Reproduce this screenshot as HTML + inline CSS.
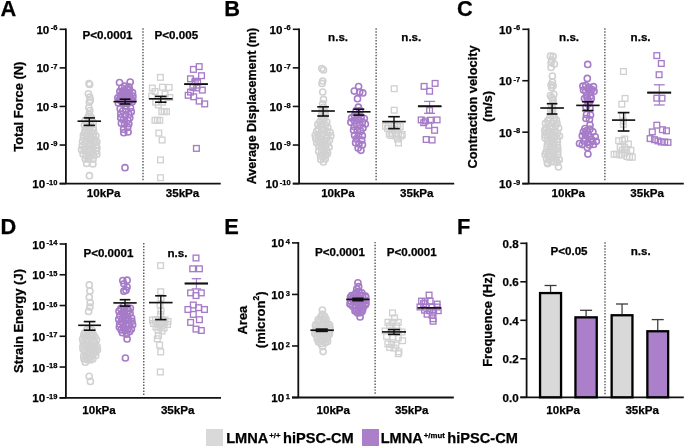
<!DOCTYPE html>
<html><head><meta charset="utf-8"><style>
html,body{margin:0;padding:0;background:#fff;}
svg{display:block;filter:blur(0.3px);}
text{font-family:'Liberation Sans', sans-serif;font-weight:bold;fill:#000;stroke:#000;stroke-width:0.25px;}
</style></head><body>
<svg width="685" height="447" viewBox="0 0 685 447">
<rect width="685" height="447" fill="#fff"/>
<line x1="65.90" y1="28.40" x2="65.90" y2="183.60" stroke="#111" stroke-width="1.8" />
<line x1="59.60" y1="183.60" x2="220.70" y2="183.60" stroke="#111" stroke-width="1.8" />
<line x1="59.60" y1="29.30" x2="65.90" y2="29.30" stroke="#111" stroke-width="1.6" />
<text x="57.40" y="33.80" font-size="11.6" text-anchor="end">10<tspan font-size="7.5" dy="-3.4" dx="1.4">-6</tspan></text>
<line x1="59.60" y1="67.88" x2="65.90" y2="67.88" stroke="#111" stroke-width="1.6" />
<text x="57.40" y="72.38" font-size="11.6" text-anchor="end">10<tspan font-size="7.5" dy="-3.4" dx="1.4">-7</tspan></text>
<line x1="59.60" y1="106.45" x2="65.90" y2="106.45" stroke="#111" stroke-width="1.6" />
<text x="57.40" y="110.95" font-size="11.6" text-anchor="end">10<tspan font-size="7.5" dy="-3.4" dx="1.4">-8</tspan></text>
<line x1="59.60" y1="145.03" x2="65.90" y2="145.03" stroke="#111" stroke-width="1.6" />
<text x="57.40" y="149.53" font-size="11.6" text-anchor="end">10<tspan font-size="7.5" dy="-3.4" dx="1.4">-9</tspan></text>
<line x1="59.60" y1="183.60" x2="65.90" y2="183.60" stroke="#111" stroke-width="1.6" />
<text x="57.40" y="188.10" font-size="11.6" text-anchor="end">10<tspan font-size="7.5" dy="-3.4" dx="1.4">-10</tspan></text>
<line x1="143.0" y1="28.3" x2="143.0" y2="181.1" stroke="#333" stroke-width="1.15" stroke-dasharray="1.45 1.5"/>
<circle cx="90.14" cy="134.26" r="3.05" fill="none" stroke="#d1d1d1" stroke-width="1.6"/>
<circle cx="89.17" cy="156.44" r="3.05" fill="none" stroke="#d1d1d1" stroke-width="1.6"/>
<circle cx="90.66" cy="136.87" r="3.05" fill="none" stroke="#d1d1d1" stroke-width="1.6"/>
<circle cx="89.36" cy="121.68" r="3.05" fill="none" stroke="#d1d1d1" stroke-width="1.6"/>
<circle cx="94.08" cy="142.60" r="3.05" fill="none" stroke="#d1d1d1" stroke-width="1.6"/>
<circle cx="88.04" cy="117.42" r="3.05" fill="none" stroke="#d1d1d1" stroke-width="1.6"/>
<circle cx="91.24" cy="117.26" r="3.05" fill="none" stroke="#d1d1d1" stroke-width="1.6"/>
<circle cx="82.30" cy="145.59" r="3.05" fill="none" stroke="#d1d1d1" stroke-width="1.6"/>
<circle cx="93.08" cy="159.16" r="3.05" fill="none" stroke="#d1d1d1" stroke-width="1.6"/>
<circle cx="91.41" cy="143.73" r="3.05" fill="none" stroke="#d1d1d1" stroke-width="1.6"/>
<circle cx="85.14" cy="120.40" r="3.05" fill="none" stroke="#d1d1d1" stroke-width="1.6"/>
<circle cx="83.45" cy="137.83" r="3.05" fill="none" stroke="#d1d1d1" stroke-width="1.6"/>
<circle cx="89.18" cy="114.41" r="3.05" fill="none" stroke="#d1d1d1" stroke-width="1.6"/>
<circle cx="93.58" cy="133.70" r="3.05" fill="none" stroke="#d1d1d1" stroke-width="1.6"/>
<circle cx="86.62" cy="134.49" r="3.05" fill="none" stroke="#d1d1d1" stroke-width="1.6"/>
<circle cx="92.92" cy="152.49" r="3.05" fill="none" stroke="#d1d1d1" stroke-width="1.6"/>
<circle cx="86.43" cy="127.82" r="3.05" fill="none" stroke="#d1d1d1" stroke-width="1.6"/>
<circle cx="87.97" cy="149.02" r="3.05" fill="none" stroke="#d1d1d1" stroke-width="1.6"/>
<circle cx="87.97" cy="152.79" r="3.05" fill="none" stroke="#d1d1d1" stroke-width="1.6"/>
<circle cx="88.40" cy="159.08" r="3.05" fill="none" stroke="#d1d1d1" stroke-width="1.6"/>
<circle cx="84.24" cy="150.46" r="3.05" fill="none" stroke="#d1d1d1" stroke-width="1.6"/>
<circle cx="88.82" cy="139.29" r="3.05" fill="none" stroke="#d1d1d1" stroke-width="1.6"/>
<circle cx="87.10" cy="123.00" r="3.05" fill="none" stroke="#d1d1d1" stroke-width="1.6"/>
<circle cx="93.21" cy="127.29" r="3.05" fill="none" stroke="#d1d1d1" stroke-width="1.6"/>
<circle cx="90.23" cy="124.42" r="3.05" fill="none" stroke="#d1d1d1" stroke-width="1.6"/>
<circle cx="88.75" cy="130.47" r="3.05" fill="none" stroke="#d1d1d1" stroke-width="1.6"/>
<circle cx="94.95" cy="140.00" r="3.05" fill="none" stroke="#d1d1d1" stroke-width="1.6"/>
<circle cx="93.78" cy="155.70" r="3.05" fill="none" stroke="#d1d1d1" stroke-width="1.6"/>
<circle cx="96.92" cy="147.75" r="3.05" fill="none" stroke="#d1d1d1" stroke-width="1.6"/>
<circle cx="93.38" cy="122.24" r="3.05" fill="none" stroke="#d1d1d1" stroke-width="1.6"/>
<circle cx="91.21" cy="154.46" r="3.05" fill="none" stroke="#d1d1d1" stroke-width="1.6"/>
<circle cx="84.62" cy="132.81" r="3.05" fill="none" stroke="#d1d1d1" stroke-width="1.6"/>
<circle cx="86.54" cy="141.03" r="3.05" fill="none" stroke="#d1d1d1" stroke-width="1.6"/>
<circle cx="85.95" cy="156.12" r="3.05" fill="none" stroke="#d1d1d1" stroke-width="1.6"/>
<circle cx="93.51" cy="130.02" r="3.05" fill="none" stroke="#d1d1d1" stroke-width="1.6"/>
<circle cx="93.00" cy="147.64" r="3.05" fill="none" stroke="#d1d1d1" stroke-width="1.6"/>
<circle cx="91.20" cy="140.39" r="3.05" fill="none" stroke="#d1d1d1" stroke-width="1.6"/>
<circle cx="89.58" cy="145.82" r="3.05" fill="none" stroke="#d1d1d1" stroke-width="1.6"/>
<circle cx="84.46" cy="125.02" r="3.05" fill="none" stroke="#d1d1d1" stroke-width="1.6"/>
<circle cx="96.52" cy="150.88" r="3.05" fill="none" stroke="#d1d1d1" stroke-width="1.6"/>
<circle cx="83.07" cy="154.02" r="3.05" fill="none" stroke="#d1d1d1" stroke-width="1.6"/>
<circle cx="88.80" cy="142.57" r="3.05" fill="none" stroke="#d1d1d1" stroke-width="1.6"/>
<circle cx="85.04" cy="143.61" r="3.05" fill="none" stroke="#d1d1d1" stroke-width="1.6"/>
<circle cx="82.54" cy="141.45" r="3.05" fill="none" stroke="#d1d1d1" stroke-width="1.6"/>
<circle cx="81.53" cy="149.63" r="3.05" fill="none" stroke="#d1d1d1" stroke-width="1.6"/>
<circle cx="91.47" cy="131.93" r="3.05" fill="none" stroke="#d1d1d1" stroke-width="1.6"/>
<circle cx="96.15" cy="145.07" r="3.05" fill="none" stroke="#d1d1d1" stroke-width="1.6"/>
<circle cx="85.27" cy="159.06" r="3.05" fill="none" stroke="#d1d1d1" stroke-width="1.6"/>
<circle cx="85.33" cy="147.51" r="3.05" fill="none" stroke="#d1d1d1" stroke-width="1.6"/>
<circle cx="85.06" cy="130.22" r="3.05" fill="none" stroke="#d1d1d1" stroke-width="1.6"/>
<circle cx="90.34" cy="150.46" r="3.05" fill="none" stroke="#d1d1d1" stroke-width="1.6"/>
<circle cx="89.75" cy="127.65" r="3.05" fill="none" stroke="#d1d1d1" stroke-width="1.6"/>
<circle cx="91.49" cy="120.08" r="3.05" fill="none" stroke="#d1d1d1" stroke-width="1.6"/>
<circle cx="93.38" cy="136.94" r="3.05" fill="none" stroke="#d1d1d1" stroke-width="1.6"/>
<circle cx="86.28" cy="137.43" r="3.05" fill="none" stroke="#d1d1d1" stroke-width="1.6"/>
<circle cx="95.91" cy="135.83" r="3.05" fill="none" stroke="#d1d1d1" stroke-width="1.6"/>
<circle cx="96.83" cy="154.35" r="3.05" fill="none" stroke="#d1d1d1" stroke-width="1.6"/>
<circle cx="83.42" cy="135.20" r="3.05" fill="none" stroke="#d1d1d1" stroke-width="1.6"/>
<circle cx="96.88" cy="141.84" r="3.05" fill="none" stroke="#d1d1d1" stroke-width="1.6"/>
<circle cx="89.00" cy="83.50" r="3.05" fill="none" stroke="#d1d1d1" stroke-width="1.6"/>
<circle cx="89.60" cy="84.50" r="3.05" fill="none" stroke="#d1d1d1" stroke-width="1.6"/>
<circle cx="88.40" cy="93.80" r="3.05" fill="none" stroke="#d1d1d1" stroke-width="1.6"/>
<circle cx="89.80" cy="97.20" r="3.05" fill="none" stroke="#d1d1d1" stroke-width="1.6"/>
<circle cx="90.30" cy="100.20" r="3.05" fill="none" stroke="#d1d1d1" stroke-width="1.6"/>
<circle cx="89.30" cy="102.10" r="3.05" fill="none" stroke="#d1d1d1" stroke-width="1.6"/>
<circle cx="88.80" cy="107.60" r="3.05" fill="none" stroke="#d1d1d1" stroke-width="1.6"/>
<circle cx="89.80" cy="110.50" r="3.05" fill="none" stroke="#d1d1d1" stroke-width="1.6"/>
<circle cx="86.60" cy="163.50" r="3.05" fill="none" stroke="#d1d1d1" stroke-width="1.6"/>
<circle cx="92.90" cy="164.00" r="3.05" fill="none" stroke="#d1d1d1" stroke-width="1.6"/>
<circle cx="89.40" cy="175.70" r="3.05" fill="none" stroke="#d1d1d1" stroke-width="1.6"/>
<line x1="89.30" y1="117.90" x2="89.30" y2="125.40" stroke="#111" stroke-width="1.4024999999999999" />
<line x1="83.70" y1="117.90" x2="94.90" y2="117.90" stroke="#111" stroke-width="1.65" />
<line x1="83.70" y1="125.40" x2="94.90" y2="125.40" stroke="#111" stroke-width="1.65" />
<line x1="77.55" y1="121.20" x2="101.05" y2="121.20" stroke="#111" stroke-width="1.65" />
<circle cx="128.25" cy="92.64" r="3.05" fill="none" stroke="#a67bc8" stroke-width="1.6"/>
<circle cx="120.37" cy="95.33" r="3.05" fill="none" stroke="#a67bc8" stroke-width="1.6"/>
<circle cx="124.76" cy="86.15" r="3.05" fill="none" stroke="#a67bc8" stroke-width="1.6"/>
<circle cx="129.68" cy="89.84" r="3.05" fill="none" stroke="#a67bc8" stroke-width="1.6"/>
<circle cx="127.31" cy="95.67" r="3.05" fill="none" stroke="#a67bc8" stroke-width="1.6"/>
<circle cx="128.99" cy="86.82" r="3.05" fill="none" stroke="#a67bc8" stroke-width="1.6"/>
<circle cx="124.80" cy="90.72" r="3.05" fill="none" stroke="#a67bc8" stroke-width="1.6"/>
<circle cx="117.81" cy="97.79" r="3.05" fill="none" stroke="#a67bc8" stroke-width="1.6"/>
<circle cx="132.71" cy="99.82" r="3.05" fill="none" stroke="#a67bc8" stroke-width="1.6"/>
<circle cx="119.86" cy="91.38" r="3.05" fill="none" stroke="#a67bc8" stroke-width="1.6"/>
<circle cx="132.93" cy="96.17" r="3.05" fill="none" stroke="#a67bc8" stroke-width="1.6"/>
<circle cx="128.00" cy="99.67" r="3.05" fill="none" stroke="#a67bc8" stroke-width="1.6"/>
<circle cx="125.56" cy="97.34" r="3.05" fill="none" stroke="#a67bc8" stroke-width="1.6"/>
<circle cx="132.50" cy="92.67" r="3.05" fill="none" stroke="#a67bc8" stroke-width="1.6"/>
<circle cx="123.15" cy="96.79" r="3.05" fill="none" stroke="#a67bc8" stroke-width="1.6"/>
<circle cx="122.53" cy="91.88" r="3.05" fill="none" stroke="#a67bc8" stroke-width="1.6"/>
<circle cx="130.25" cy="98.65" r="3.05" fill="none" stroke="#a67bc8" stroke-width="1.6"/>
<circle cx="121.64" cy="87.99" r="3.05" fill="none" stroke="#a67bc8" stroke-width="1.6"/>
<circle cx="125.26" cy="93.51" r="3.05" fill="none" stroke="#a67bc8" stroke-width="1.6"/>
<circle cx="122.42" cy="99.97" r="3.05" fill="none" stroke="#a67bc8" stroke-width="1.6"/>
<circle cx="119.33" cy="99.66" r="3.05" fill="none" stroke="#a67bc8" stroke-width="1.6"/>
<circle cx="126.98" cy="88.37" r="3.05" fill="none" stroke="#a67bc8" stroke-width="1.6"/>
<circle cx="129.84" cy="96.28" r="3.05" fill="none" stroke="#a67bc8" stroke-width="1.6"/>
<circle cx="120.79" cy="97.72" r="3.05" fill="none" stroke="#a67bc8" stroke-width="1.6"/>
<circle cx="125.03" cy="99.87" r="3.05" fill="none" stroke="#a67bc8" stroke-width="1.6"/>
<circle cx="122.92" cy="94.38" r="3.05" fill="none" stroke="#a67bc8" stroke-width="1.6"/>
<circle cx="127.78" cy="120.31" r="3.05" fill="none" stroke="#a67bc8" stroke-width="1.6"/>
<circle cx="125.31" cy="115.61" r="3.05" fill="none" stroke="#a67bc8" stroke-width="1.6"/>
<circle cx="131.28" cy="111.81" r="3.05" fill="none" stroke="#a67bc8" stroke-width="1.6"/>
<circle cx="120.20" cy="108.68" r="3.05" fill="none" stroke="#a67bc8" stroke-width="1.6"/>
<circle cx="122.45" cy="103.23" r="3.05" fill="none" stroke="#a67bc8" stroke-width="1.6"/>
<circle cx="125.99" cy="109.33" r="3.05" fill="none" stroke="#a67bc8" stroke-width="1.6"/>
<circle cx="125.74" cy="106.08" r="3.05" fill="none" stroke="#a67bc8" stroke-width="1.6"/>
<circle cx="124.53" cy="124.09" r="3.05" fill="none" stroke="#a67bc8" stroke-width="1.6"/>
<circle cx="128.76" cy="102.98" r="3.05" fill="none" stroke="#a67bc8" stroke-width="1.6"/>
<circle cx="123.34" cy="119.75" r="3.05" fill="none" stroke="#a67bc8" stroke-width="1.6"/>
<circle cx="127.74" cy="127.45" r="3.05" fill="none" stroke="#a67bc8" stroke-width="1.6"/>
<circle cx="128.80" cy="123.76" r="3.05" fill="none" stroke="#a67bc8" stroke-width="1.6"/>
<circle cx="118.38" cy="103.04" r="3.05" fill="none" stroke="#a67bc8" stroke-width="1.6"/>
<circle cx="124.19" cy="100.48" r="3.05" fill="none" stroke="#a67bc8" stroke-width="1.6"/>
<circle cx="120.73" cy="114.01" r="3.05" fill="none" stroke="#a67bc8" stroke-width="1.6"/>
<circle cx="129.75" cy="117.67" r="3.05" fill="none" stroke="#a67bc8" stroke-width="1.6"/>
<circle cx="130.49" cy="107.84" r="3.05" fill="none" stroke="#a67bc8" stroke-width="1.6"/>
<circle cx="123.59" cy="129.13" r="3.05" fill="none" stroke="#a67bc8" stroke-width="1.6"/>
<circle cx="122.74" cy="110.86" r="3.05" fill="none" stroke="#a67bc8" stroke-width="1.6"/>
<circle cx="120.70" cy="117.63" r="3.05" fill="none" stroke="#a67bc8" stroke-width="1.6"/>
<circle cx="132.09" cy="102.12" r="3.05" fill="none" stroke="#a67bc8" stroke-width="1.6"/>
<circle cx="128.97" cy="114.44" r="3.05" fill="none" stroke="#a67bc8" stroke-width="1.6"/>
<circle cx="121.39" cy="123.13" r="3.05" fill="none" stroke="#a67bc8" stroke-width="1.6"/>
<circle cx="120.32" cy="100.34" r="3.05" fill="none" stroke="#a67bc8" stroke-width="1.6"/>
<circle cx="119.50" cy="82.50" r="3.05" fill="none" stroke="#a67bc8" stroke-width="1.6"/>
<circle cx="130.20" cy="82.00" r="3.05" fill="none" stroke="#a67bc8" stroke-width="1.6"/>
<circle cx="123.80" cy="132.70" r="3.05" fill="none" stroke="#a67bc8" stroke-width="1.6"/>
<circle cx="128.10" cy="132.00" r="3.05" fill="none" stroke="#a67bc8" stroke-width="1.6"/>
<circle cx="125.00" cy="167.70" r="3.05" fill="none" stroke="#a67bc8" stroke-width="1.6"/>
<line x1="125.10" y1="99.20" x2="125.10" y2="104.00" stroke="#111" stroke-width="1.4024999999999999" />
<line x1="119.70" y1="99.20" x2="130.50" y2="99.20" stroke="#111" stroke-width="1.65" />
<line x1="119.70" y1="104.00" x2="130.50" y2="104.00" stroke="#111" stroke-width="1.65" />
<line x1="113.50" y1="101.60" x2="136.70" y2="101.60" stroke="#111" stroke-width="1.65" />
<rect x="157.55" y="74.55" width="5.7" height="5.7" fill="none" stroke="#d1d1d1" stroke-width="1.35"/>
<rect x="149.55" y="85.25" width="5.7" height="5.7" fill="none" stroke="#d1d1d1" stroke-width="1.35"/>
<rect x="159.55" y="84.35" width="5.7" height="5.7" fill="none" stroke="#d1d1d1" stroke-width="1.35"/>
<rect x="166.25" y="84.55" width="5.7" height="5.7" fill="none" stroke="#d1d1d1" stroke-width="1.35"/>
<rect x="152.15" y="88.65" width="5.7" height="5.7" fill="none" stroke="#d1d1d1" stroke-width="1.35"/>
<rect x="162.25" y="91.25" width="5.7" height="5.7" fill="none" stroke="#d1d1d1" stroke-width="1.35"/>
<rect x="148.85" y="93.25" width="5.7" height="5.7" fill="none" stroke="#d1d1d1" stroke-width="1.35"/>
<rect x="166.95" y="94.65" width="5.7" height="5.7" fill="none" stroke="#d1d1d1" stroke-width="1.35"/>
<rect x="152.85" y="99.35" width="5.7" height="5.7" fill="none" stroke="#d1d1d1" stroke-width="1.35"/>
<rect x="159.55" y="99.35" width="5.7" height="5.7" fill="none" stroke="#d1d1d1" stroke-width="1.35"/>
<rect x="155.55" y="102.05" width="5.7" height="5.7" fill="none" stroke="#d1d1d1" stroke-width="1.35"/>
<rect x="158.95" y="108.75" width="5.7" height="5.7" fill="none" stroke="#d1d1d1" stroke-width="1.35"/>
<rect x="161.35" y="108.75" width="5.7" height="5.7" fill="none" stroke="#d1d1d1" stroke-width="1.35"/>
<rect x="163.65" y="108.75" width="5.7" height="5.7" fill="none" stroke="#d1d1d1" stroke-width="1.35"/>
<rect x="152.15" y="117.45" width="5.7" height="5.7" fill="none" stroke="#d1d1d1" stroke-width="1.35"/>
<rect x="154.55" y="117.45" width="5.7" height="5.7" fill="none" stroke="#d1d1d1" stroke-width="1.35"/>
<rect x="156.95" y="117.45" width="5.7" height="5.7" fill="none" stroke="#d1d1d1" stroke-width="1.35"/>
<rect x="155.95" y="130.25" width="5.7" height="5.7" fill="none" stroke="#d1d1d1" stroke-width="1.35"/>
<rect x="159.25" y="137.15" width="5.7" height="5.7" fill="none" stroke="#d1d1d1" stroke-width="1.35"/>
<rect x="157.65" y="157.05" width="5.7" height="5.7" fill="none" stroke="#d1d1d1" stroke-width="1.35"/>
<rect x="157.65" y="174.85" width="5.7" height="5.7" fill="none" stroke="#d1d1d1" stroke-width="1.35"/>
<line x1="160.80" y1="96.40" x2="160.80" y2="102.20" stroke="#111" stroke-width="1.4024999999999999" />
<line x1="155.05" y1="96.40" x2="166.55" y2="96.40" stroke="#111" stroke-width="1.65" />
<line x1="155.05" y1="102.20" x2="166.55" y2="102.20" stroke="#111" stroke-width="1.65" />
<line x1="149.05" y1="98.80" x2="172.55" y2="98.80" stroke="#111" stroke-width="1.65" />
<line x1="196.00" y1="80.00" x2="196.00" y2="88.00" stroke="#a67bc8" stroke-width="1.105" />
<line x1="191.00" y1="80.00" x2="201.00" y2="80.00" stroke="#a67bc8" stroke-width="1.3" />
<line x1="191.00" y1="88.00" x2="201.00" y2="88.00" stroke="#a67bc8" stroke-width="1.3" />
<line x1="184.25" y1="84.20" x2="207.75" y2="84.20" stroke="#111" stroke-width="1.65" />
<rect x="196.35" y="63.75" width="5.7" height="5.7" fill="none" stroke="#a67bc8" stroke-width="1.35"/>
<rect x="190.55" y="66.55" width="5.7" height="5.7" fill="none" stroke="#a67bc8" stroke-width="1.35"/>
<rect x="198.65" y="72.85" width="5.7" height="5.7" fill="none" stroke="#a67bc8" stroke-width="1.35"/>
<rect x="187.65" y="75.95" width="5.7" height="5.7" fill="none" stroke="#a67bc8" stroke-width="1.35"/>
<rect x="192.35" y="78.35" width="5.7" height="5.7" fill="none" stroke="#a67bc8" stroke-width="1.35"/>
<rect x="194.75" y="79.15" width="5.7" height="5.7" fill="none" stroke="#a67bc8" stroke-width="1.35"/>
<rect x="190.05" y="84.55" width="5.7" height="5.7" fill="none" stroke="#a67bc8" stroke-width="1.35"/>
<rect x="193.95" y="85.05" width="5.7" height="5.7" fill="none" stroke="#a67bc8" stroke-width="1.35"/>
<rect x="199.45" y="87.25" width="5.7" height="5.7" fill="none" stroke="#a67bc8" stroke-width="1.35"/>
<rect x="187.65" y="89.25" width="5.7" height="5.7" fill="none" stroke="#a67bc8" stroke-width="1.35"/>
<rect x="185.35" y="92.45" width="5.7" height="5.7" fill="none" stroke="#a67bc8" stroke-width="1.35"/>
<rect x="190.85" y="93.95" width="5.7" height="5.7" fill="none" stroke="#a67bc8" stroke-width="1.35"/>
<rect x="196.35" y="98.25" width="5.7" height="5.7" fill="none" stroke="#a67bc8" stroke-width="1.35"/>
<rect x="201.85" y="101.05" width="5.7" height="5.7" fill="none" stroke="#a67bc8" stroke-width="1.35"/>
<rect x="193.55" y="145.55" width="5.7" height="5.7" fill="none" stroke="#a67bc8" stroke-width="1.35"/>
<line x1="184.30" y1="84.20" x2="207.80" y2="84.20" stroke="#111" stroke-width="1.7" />
<text x="107.55" y="39.20" font-size="11.6" text-anchor="middle" >P&lt;0.0001</text>
<text x="176.35" y="39.20" font-size="11.6" text-anchor="middle" >P&lt;0.005</text>
<text x="103.60" y="197.40" font-size="11.6" text-anchor="middle" >10kPa</text>
<text x="182.50" y="197.40" font-size="11.6" text-anchor="middle" >35kPa</text>
<line x1="299.10" y1="28.40" x2="299.10" y2="183.60" stroke="#111" stroke-width="1.8" />
<line x1="292.80" y1="183.60" x2="454.20" y2="183.60" stroke="#111" stroke-width="1.8" />
<line x1="292.80" y1="29.30" x2="299.10" y2="29.30" stroke="#111" stroke-width="1.6" />
<text x="290.60" y="33.80" font-size="11.6" text-anchor="end">10<tspan font-size="7.5" dy="-3.4" dx="1.4">-6</tspan></text>
<line x1="292.80" y1="67.88" x2="299.10" y2="67.88" stroke="#111" stroke-width="1.6" />
<text x="290.60" y="72.38" font-size="11.6" text-anchor="end">10<tspan font-size="7.5" dy="-3.4" dx="1.4">-7</tspan></text>
<line x1="292.80" y1="106.45" x2="299.10" y2="106.45" stroke="#111" stroke-width="1.6" />
<text x="290.60" y="110.95" font-size="11.6" text-anchor="end">10<tspan font-size="7.5" dy="-3.4" dx="1.4">-8</tspan></text>
<line x1="292.80" y1="145.03" x2="299.10" y2="145.03" stroke="#111" stroke-width="1.6" />
<text x="290.60" y="149.53" font-size="11.6" text-anchor="end">10<tspan font-size="7.5" dy="-3.4" dx="1.4">-9</tspan></text>
<line x1="292.80" y1="183.60" x2="299.10" y2="183.60" stroke="#111" stroke-width="1.6" />
<text x="290.60" y="188.10" font-size="11.6" text-anchor="end">10<tspan font-size="7.5" dy="-3.4" dx="1.4">-10</tspan></text>
<line x1="376.1" y1="28.3" x2="376.1" y2="181.1" stroke="#333" stroke-width="1.15" stroke-dasharray="1.45 1.5"/>
<circle cx="324.49" cy="118.28" r="3.05" fill="none" stroke="#d1d1d1" stroke-width="1.6"/>
<circle cx="327.78" cy="143.36" r="3.05" fill="none" stroke="#d1d1d1" stroke-width="1.6"/>
<circle cx="321.80" cy="113.96" r="3.05" fill="none" stroke="#d1d1d1" stroke-width="1.6"/>
<circle cx="318.91" cy="146.31" r="3.05" fill="none" stroke="#d1d1d1" stroke-width="1.6"/>
<circle cx="318.51" cy="134.35" r="3.05" fill="none" stroke="#d1d1d1" stroke-width="1.6"/>
<circle cx="322.71" cy="120.38" r="3.05" fill="none" stroke="#d1d1d1" stroke-width="1.6"/>
<circle cx="324.49" cy="152.42" r="3.05" fill="none" stroke="#d1d1d1" stroke-width="1.6"/>
<circle cx="322.63" cy="103.85" r="3.05" fill="none" stroke="#d1d1d1" stroke-width="1.6"/>
<circle cx="325.11" cy="111.66" r="3.05" fill="none" stroke="#d1d1d1" stroke-width="1.6"/>
<circle cx="325.21" cy="159.01" r="3.05" fill="none" stroke="#d1d1d1" stroke-width="1.6"/>
<circle cx="326.81" cy="131.72" r="3.05" fill="none" stroke="#d1d1d1" stroke-width="1.6"/>
<circle cx="321.97" cy="136.28" r="3.05" fill="none" stroke="#d1d1d1" stroke-width="1.6"/>
<circle cx="322.39" cy="124.49" r="3.05" fill="none" stroke="#d1d1d1" stroke-width="1.6"/>
<circle cx="319.96" cy="121.51" r="3.05" fill="none" stroke="#d1d1d1" stroke-width="1.6"/>
<circle cx="327.00" cy="135.70" r="3.05" fill="none" stroke="#d1d1d1" stroke-width="1.6"/>
<circle cx="318.53" cy="129.16" r="3.05" fill="none" stroke="#d1d1d1" stroke-width="1.6"/>
<circle cx="321.70" cy="116.89" r="3.05" fill="none" stroke="#d1d1d1" stroke-width="1.6"/>
<circle cx="323.63" cy="107.32" r="3.05" fill="none" stroke="#d1d1d1" stroke-width="1.6"/>
<circle cx="326.84" cy="150.56" r="3.05" fill="none" stroke="#d1d1d1" stroke-width="1.6"/>
<circle cx="318.36" cy="140.70" r="3.05" fill="none" stroke="#d1d1d1" stroke-width="1.6"/>
<circle cx="327.79" cy="127.40" r="3.05" fill="none" stroke="#d1d1d1" stroke-width="1.6"/>
<circle cx="325.89" cy="155.29" r="3.05" fill="none" stroke="#d1d1d1" stroke-width="1.6"/>
<circle cx="325.22" cy="114.98" r="3.05" fill="none" stroke="#d1d1d1" stroke-width="1.6"/>
<circle cx="325.55" cy="125.11" r="3.05" fill="none" stroke="#d1d1d1" stroke-width="1.6"/>
<circle cx="326.41" cy="138.61" r="3.05" fill="none" stroke="#d1d1d1" stroke-width="1.6"/>
<circle cx="322.03" cy="109.62" r="3.05" fill="none" stroke="#d1d1d1" stroke-width="1.6"/>
<circle cx="330.10" cy="132.30" r="3.05" fill="none" stroke="#d1d1d1" stroke-width="1.6"/>
<circle cx="322.64" cy="133.48" r="3.05" fill="none" stroke="#d1d1d1" stroke-width="1.6"/>
<circle cx="320.45" cy="142.50" r="3.05" fill="none" stroke="#d1d1d1" stroke-width="1.6"/>
<circle cx="321.32" cy="153.10" r="3.05" fill="none" stroke="#d1d1d1" stroke-width="1.6"/>
<circle cx="315.72" cy="138.39" r="3.05" fill="none" stroke="#d1d1d1" stroke-width="1.6"/>
<circle cx="326.76" cy="122.04" r="3.05" fill="none" stroke="#d1d1d1" stroke-width="1.6"/>
<circle cx="324.02" cy="128.99" r="3.05" fill="none" stroke="#d1d1d1" stroke-width="1.6"/>
<circle cx="320.45" cy="155.96" r="3.05" fill="none" stroke="#d1d1d1" stroke-width="1.6"/>
<circle cx="323.45" cy="161.98" r="3.05" fill="none" stroke="#d1d1d1" stroke-width="1.6"/>
<circle cx="320.77" cy="159.60" r="3.05" fill="none" stroke="#d1d1d1" stroke-width="1.6"/>
<circle cx="321.55" cy="147.83" r="3.05" fill="none" stroke="#d1d1d1" stroke-width="1.6"/>
<circle cx="325.31" cy="145.53" r="3.05" fill="none" stroke="#d1d1d1" stroke-width="1.6"/>
<circle cx="319.44" cy="137.85" r="3.05" fill="none" stroke="#d1d1d1" stroke-width="1.6"/>
<circle cx="324.69" cy="140.86" r="3.05" fill="none" stroke="#d1d1d1" stroke-width="1.6"/>
<circle cx="322.31" cy="144.66" r="3.05" fill="none" stroke="#d1d1d1" stroke-width="1.6"/>
<circle cx="317.80" cy="124.45" r="3.05" fill="none" stroke="#d1d1d1" stroke-width="1.6"/>
<circle cx="329.46" cy="140.17" r="3.05" fill="none" stroke="#d1d1d1" stroke-width="1.6"/>
<circle cx="316.68" cy="142.86" r="3.05" fill="none" stroke="#d1d1d1" stroke-width="1.6"/>
<circle cx="316.69" cy="131.30" r="3.05" fill="none" stroke="#d1d1d1" stroke-width="1.6"/>
<circle cx="318.74" cy="151.13" r="3.05" fill="none" stroke="#d1d1d1" stroke-width="1.6"/>
<circle cx="321.67" cy="130.35" r="3.05" fill="none" stroke="#d1d1d1" stroke-width="1.6"/>
<circle cx="320.11" cy="126.05" r="3.05" fill="none" stroke="#d1d1d1" stroke-width="1.6"/>
<circle cx="330.85" cy="135.66" r="3.05" fill="none" stroke="#d1d1d1" stroke-width="1.6"/>
<circle cx="323.50" cy="156.79" r="3.05" fill="none" stroke="#d1d1d1" stroke-width="1.6"/>
<circle cx="329.03" cy="147.11" r="3.05" fill="none" stroke="#d1d1d1" stroke-width="1.6"/>
<circle cx="323.71" cy="149.47" r="3.05" fill="none" stroke="#d1d1d1" stroke-width="1.6"/>
<circle cx="315.19" cy="135.30" r="3.05" fill="none" stroke="#d1d1d1" stroke-width="1.6"/>
<circle cx="321.83" cy="139.36" r="3.05" fill="none" stroke="#d1d1d1" stroke-width="1.6"/>
<circle cx="327.59" cy="153.17" r="3.05" fill="none" stroke="#d1d1d1" stroke-width="1.6"/>
<circle cx="321.80" cy="68.60" r="3.05" fill="none" stroke="#d1d1d1" stroke-width="1.6"/>
<circle cx="323.50" cy="69.90" r="3.05" fill="none" stroke="#d1d1d1" stroke-width="1.6"/>
<circle cx="322.70" cy="81.00" r="3.05" fill="none" stroke="#d1d1d1" stroke-width="1.6"/>
<circle cx="322.00" cy="83.40" r="3.05" fill="none" stroke="#d1d1d1" stroke-width="1.6"/>
<circle cx="322.70" cy="92.00" r="3.05" fill="none" stroke="#d1d1d1" stroke-width="1.6"/>
<circle cx="323.50" cy="99.40" r="3.05" fill="none" stroke="#d1d1d1" stroke-width="1.6"/>
<line x1="323.10" y1="106.80" x2="323.10" y2="116.00" stroke="#111" stroke-width="1.4024999999999999" />
<line x1="317.25" y1="106.80" x2="328.95" y2="106.80" stroke="#111" stroke-width="1.65" />
<line x1="317.25" y1="116.00" x2="328.95" y2="116.00" stroke="#111" stroke-width="1.65" />
<line x1="311.35" y1="111.00" x2="334.85" y2="111.00" stroke="#111" stroke-width="1.65" />
<circle cx="358.60" cy="119.64" r="3.05" fill="none" stroke="#a67bc8" stroke-width="1.6"/>
<circle cx="359.70" cy="124.98" r="3.05" fill="none" stroke="#a67bc8" stroke-width="1.6"/>
<circle cx="354.60" cy="135.34" r="3.05" fill="none" stroke="#a67bc8" stroke-width="1.6"/>
<circle cx="359.96" cy="110.53" r="3.05" fill="none" stroke="#a67bc8" stroke-width="1.6"/>
<circle cx="354.24" cy="120.50" r="3.05" fill="none" stroke="#a67bc8" stroke-width="1.6"/>
<circle cx="360.92" cy="150.32" r="3.05" fill="none" stroke="#a67bc8" stroke-width="1.6"/>
<circle cx="358.99" cy="143.88" r="3.05" fill="none" stroke="#a67bc8" stroke-width="1.6"/>
<circle cx="362.34" cy="135.71" r="3.05" fill="none" stroke="#a67bc8" stroke-width="1.6"/>
<circle cx="360.75" cy="131.19" r="3.05" fill="none" stroke="#a67bc8" stroke-width="1.6"/>
<circle cx="350.89" cy="122.20" r="3.05" fill="none" stroke="#a67bc8" stroke-width="1.6"/>
<circle cx="363.03" cy="128.01" r="3.05" fill="none" stroke="#a67bc8" stroke-width="1.6"/>
<circle cx="354.45" cy="115.51" r="3.05" fill="none" stroke="#a67bc8" stroke-width="1.6"/>
<circle cx="357.29" cy="130.54" r="3.05" fill="none" stroke="#a67bc8" stroke-width="1.6"/>
<circle cx="362.44" cy="144.68" r="3.05" fill="none" stroke="#a67bc8" stroke-width="1.6"/>
<circle cx="356.36" cy="138.91" r="3.05" fill="none" stroke="#a67bc8" stroke-width="1.6"/>
<circle cx="354.09" cy="126.62" r="3.05" fill="none" stroke="#a67bc8" stroke-width="1.6"/>
<circle cx="362.45" cy="121.90" r="3.05" fill="none" stroke="#a67bc8" stroke-width="1.6"/>
<circle cx="358.45" cy="135.41" r="3.05" fill="none" stroke="#a67bc8" stroke-width="1.6"/>
<circle cx="356.03" cy="110.90" r="3.05" fill="none" stroke="#a67bc8" stroke-width="1.6"/>
<circle cx="361.70" cy="140.19" r="3.05" fill="none" stroke="#a67bc8" stroke-width="1.6"/>
<circle cx="355.59" cy="142.81" r="3.05" fill="none" stroke="#a67bc8" stroke-width="1.6"/>
<circle cx="361.11" cy="116.94" r="3.05" fill="none" stroke="#a67bc8" stroke-width="1.6"/>
<circle cx="358.00" cy="115.01" r="3.05" fill="none" stroke="#a67bc8" stroke-width="1.6"/>
<circle cx="356.39" cy="123.52" r="3.05" fill="none" stroke="#a67bc8" stroke-width="1.6"/>
<circle cx="365.37" cy="124.01" r="3.05" fill="none" stroke="#a67bc8" stroke-width="1.6"/>
<circle cx="358.17" cy="148.00" r="3.05" fill="none" stroke="#a67bc8" stroke-width="1.6"/>
<circle cx="351.65" cy="117.90" r="3.05" fill="none" stroke="#a67bc8" stroke-width="1.6"/>
<circle cx="364.29" cy="118.51" r="3.05" fill="none" stroke="#a67bc8" stroke-width="1.6"/>
<circle cx="353.59" cy="130.19" r="3.05" fill="none" stroke="#a67bc8" stroke-width="1.6"/>
<circle cx="358.60" cy="86.60" r="3.05" fill="none" stroke="#a67bc8" stroke-width="1.6"/>
<circle cx="354.30" cy="91.10" r="3.05" fill="none" stroke="#a67bc8" stroke-width="1.6"/>
<circle cx="359.70" cy="92.00" r="3.05" fill="none" stroke="#a67bc8" stroke-width="1.6"/>
<circle cx="362.80" cy="92.90" r="3.05" fill="none" stroke="#a67bc8" stroke-width="1.6"/>
<circle cx="357.50" cy="98.70" r="3.05" fill="none" stroke="#a67bc8" stroke-width="1.6"/>
<circle cx="358.40" cy="107.20" r="3.05" fill="none" stroke="#a67bc8" stroke-width="1.6"/>
<line x1="358.80" y1="109.20" x2="358.80" y2="115.10" stroke="#111" stroke-width="1.4024999999999999" />
<line x1="353.30" y1="109.20" x2="364.30" y2="109.20" stroke="#111" stroke-width="1.65" />
<line x1="353.30" y1="115.10" x2="364.30" y2="115.10" stroke="#111" stroke-width="1.65" />
<line x1="347.05" y1="111.80" x2="370.55" y2="111.80" stroke="#111" stroke-width="1.65" />
<rect x="391.35" y="85.85" width="5.7" height="5.7" fill="none" stroke="#d1d1d1" stroke-width="1.35"/>
<rect x="391.35" y="107.35" width="5.7" height="5.7" fill="none" stroke="#d1d1d1" stroke-width="1.35"/>
<rect x="382.65" y="123.45" width="5.7" height="5.7" fill="none" stroke="#d1d1d1" stroke-width="1.35"/>
<rect x="385.65" y="123.15" width="5.7" height="5.7" fill="none" stroke="#d1d1d1" stroke-width="1.35"/>
<rect x="388.65" y="123.65" width="5.7" height="5.7" fill="none" stroke="#d1d1d1" stroke-width="1.35"/>
<rect x="391.65" y="123.15" width="5.7" height="5.7" fill="none" stroke="#d1d1d1" stroke-width="1.35"/>
<rect x="394.65" y="123.65" width="5.7" height="5.7" fill="none" stroke="#d1d1d1" stroke-width="1.35"/>
<rect x="397.35" y="123.95" width="5.7" height="5.7" fill="none" stroke="#d1d1d1" stroke-width="1.35"/>
<rect x="384.65" y="125.65" width="5.7" height="5.7" fill="none" stroke="#d1d1d1" stroke-width="1.35"/>
<rect x="389.65" y="126.15" width="5.7" height="5.7" fill="none" stroke="#d1d1d1" stroke-width="1.35"/>
<rect x="395.15" y="126.15" width="5.7" height="5.7" fill="none" stroke="#d1d1d1" stroke-width="1.35"/>
<rect x="386.45" y="131.15" width="5.7" height="5.7" fill="none" stroke="#d1d1d1" stroke-width="1.35"/>
<rect x="389.65" y="130.65" width="5.7" height="5.7" fill="none" stroke="#d1d1d1" stroke-width="1.35"/>
<rect x="392.65" y="131.35" width="5.7" height="5.7" fill="none" stroke="#d1d1d1" stroke-width="1.35"/>
<rect x="395.65" y="130.95" width="5.7" height="5.7" fill="none" stroke="#d1d1d1" stroke-width="1.35"/>
<rect x="399.35" y="131.65" width="5.7" height="5.7" fill="none" stroke="#d1d1d1" stroke-width="1.35"/>
<rect x="388.15" y="132.65" width="5.7" height="5.7" fill="none" stroke="#d1d1d1" stroke-width="1.35"/>
<rect x="393.15" y="133.15" width="5.7" height="5.7" fill="none" stroke="#d1d1d1" stroke-width="1.35"/>
<rect x="398.15" y="133.15" width="5.7" height="5.7" fill="none" stroke="#d1d1d1" stroke-width="1.35"/>
<rect x="394.65" y="136.15" width="5.7" height="5.7" fill="none" stroke="#d1d1d1" stroke-width="1.35"/>
<rect x="395.65" y="140.15" width="5.7" height="5.7" fill="none" stroke="#d1d1d1" stroke-width="1.35"/>
<line x1="394.00" y1="116.70" x2="394.00" y2="128.60" stroke="#111" stroke-width="1.4024999999999999" />
<line x1="388.20" y1="116.70" x2="399.80" y2="116.70" stroke="#111" stroke-width="1.65" />
<line x1="388.20" y1="128.60" x2="399.80" y2="128.60" stroke="#111" stroke-width="1.65" />
<line x1="382.20" y1="121.60" x2="405.80" y2="121.60" stroke="#111" stroke-width="1.65" />
<line x1="429.60" y1="101.40" x2="429.60" y2="113.30" stroke="#a67bc8" stroke-width="1.105" />
<line x1="424.10" y1="101.40" x2="435.10" y2="101.40" stroke="#a67bc8" stroke-width="1.3" />
<line x1="424.10" y1="113.30" x2="435.10" y2="113.30" stroke="#a67bc8" stroke-width="1.3" />
<line x1="417.90" y1="106.30" x2="441.30" y2="106.30" stroke="#111" stroke-width="1.65" />
<rect x="421.25" y="83.55" width="5.7" height="5.7" fill="none" stroke="#a67bc8" stroke-width="1.35"/>
<rect x="432.25" y="80.55" width="5.7" height="5.7" fill="none" stroke="#a67bc8" stroke-width="1.35"/>
<rect x="426.75" y="88.35" width="5.7" height="5.7" fill="none" stroke="#a67bc8" stroke-width="1.35"/>
<rect x="426.75" y="107.55" width="5.7" height="5.7" fill="none" stroke="#a67bc8" stroke-width="1.35"/>
<rect x="418.35" y="117.05" width="5.7" height="5.7" fill="none" stroke="#a67bc8" stroke-width="1.35"/>
<rect x="422.55" y="118.15" width="5.7" height="5.7" fill="none" stroke="#a67bc8" stroke-width="1.35"/>
<rect x="427.55" y="117.35" width="5.7" height="5.7" fill="none" stroke="#a67bc8" stroke-width="1.35"/>
<rect x="434.25" y="117.05" width="5.7" height="5.7" fill="none" stroke="#a67bc8" stroke-width="1.35"/>
<rect x="420.85" y="119.85" width="5.7" height="5.7" fill="none" stroke="#a67bc8" stroke-width="1.35"/>
<rect x="425.95" y="122.45" width="5.7" height="5.7" fill="none" stroke="#a67bc8" stroke-width="1.35"/>
<rect x="431.75" y="127.45" width="5.7" height="5.7" fill="none" stroke="#a67bc8" stroke-width="1.35"/>
<rect x="423.35" y="136.65" width="5.7" height="5.7" fill="none" stroke="#a67bc8" stroke-width="1.35"/>
<rect x="429.25" y="137.15" width="5.7" height="5.7" fill="none" stroke="#a67bc8" stroke-width="1.35"/>
<line x1="418.00" y1="106.30" x2="441.50" y2="106.30" stroke="#111" stroke-width="1.7" />
<text x="338.10" y="40.90" font-size="11.6" text-anchor="middle" >n.s.</text>
<text x="411.30" y="40.90" font-size="11.6" text-anchor="middle" >n.s.</text>
<text x="337.95" y="197.40" font-size="11.6" text-anchor="middle" >10kPa</text>
<text x="416.75" y="197.40" font-size="11.6" text-anchor="middle" >35kPa</text>
<line x1="528.60" y1="28.40" x2="528.60" y2="183.60" stroke="#111" stroke-width="1.8" />
<line x1="522.30" y1="183.60" x2="683.80" y2="183.60" stroke="#111" stroke-width="1.8" />
<line x1="522.30" y1="29.30" x2="528.60" y2="29.30" stroke="#111" stroke-width="1.6" />
<text x="520.10" y="33.80" font-size="11.6" text-anchor="end">10<tspan font-size="7.5" dy="-3.4" dx="1.4">-6</tspan></text>
<line x1="522.30" y1="80.73" x2="528.60" y2="80.73" stroke="#111" stroke-width="1.6" />
<text x="520.10" y="85.23" font-size="11.6" text-anchor="end">10<tspan font-size="7.5" dy="-3.4" dx="1.4">-7</tspan></text>
<line x1="522.30" y1="132.17" x2="528.60" y2="132.17" stroke="#111" stroke-width="1.6" />
<text x="520.10" y="136.67" font-size="11.6" text-anchor="end">10<tspan font-size="7.5" dy="-3.4" dx="1.4">-8</tspan></text>
<line x1="522.30" y1="183.60" x2="528.60" y2="183.60" stroke="#111" stroke-width="1.6" />
<text x="520.10" y="188.10" font-size="11.6" text-anchor="end">10<tspan font-size="7.5" dy="-3.4" dx="1.4">-9</tspan></text>
<line x1="604.9" y1="28.3" x2="604.9" y2="181.1" stroke="#333" stroke-width="1.15" stroke-dasharray="1.45 1.5"/>
<circle cx="552.89" cy="108.52" r="3.05" fill="none" stroke="#d1d1d1" stroke-width="1.6"/>
<circle cx="557.41" cy="141.77" r="3.05" fill="none" stroke="#d1d1d1" stroke-width="1.6"/>
<circle cx="549.86" cy="118.54" r="3.05" fill="none" stroke="#d1d1d1" stroke-width="1.6"/>
<circle cx="553.74" cy="146.78" r="3.05" fill="none" stroke="#d1d1d1" stroke-width="1.6"/>
<circle cx="553.62" cy="120.48" r="3.05" fill="none" stroke="#d1d1d1" stroke-width="1.6"/>
<circle cx="555.51" cy="126.20" r="3.05" fill="none" stroke="#d1d1d1" stroke-width="1.6"/>
<circle cx="550.13" cy="156.99" r="3.05" fill="none" stroke="#d1d1d1" stroke-width="1.6"/>
<circle cx="547.61" cy="140.53" r="3.05" fill="none" stroke="#d1d1d1" stroke-width="1.6"/>
<circle cx="554.98" cy="135.63" r="3.05" fill="none" stroke="#d1d1d1" stroke-width="1.6"/>
<circle cx="552.65" cy="112.06" r="3.05" fill="none" stroke="#d1d1d1" stroke-width="1.6"/>
<circle cx="551.41" cy="161.66" r="3.05" fill="none" stroke="#d1d1d1" stroke-width="1.6"/>
<circle cx="557.39" cy="139.06" r="3.05" fill="none" stroke="#d1d1d1" stroke-width="1.6"/>
<circle cx="547.47" cy="143.90" r="3.05" fill="none" stroke="#d1d1d1" stroke-width="1.6"/>
<circle cx="553.17" cy="115.31" r="3.05" fill="none" stroke="#d1d1d1" stroke-width="1.6"/>
<circle cx="546.15" cy="132.53" r="3.05" fill="none" stroke="#d1d1d1" stroke-width="1.6"/>
<circle cx="546.12" cy="151.91" r="3.05" fill="none" stroke="#d1d1d1" stroke-width="1.6"/>
<circle cx="547.07" cy="147.16" r="3.05" fill="none" stroke="#d1d1d1" stroke-width="1.6"/>
<circle cx="554.81" cy="131.31" r="3.05" fill="none" stroke="#d1d1d1" stroke-width="1.6"/>
<circle cx="551.64" cy="134.63" r="3.05" fill="none" stroke="#d1d1d1" stroke-width="1.6"/>
<circle cx="551.13" cy="131.58" r="3.05" fill="none" stroke="#d1d1d1" stroke-width="1.6"/>
<circle cx="557.79" cy="154.79" r="3.05" fill="none" stroke="#d1d1d1" stroke-width="1.6"/>
<circle cx="551.30" cy="106.05" r="3.05" fill="none" stroke="#d1d1d1" stroke-width="1.6"/>
<circle cx="552.97" cy="103.17" r="3.05" fill="none" stroke="#d1d1d1" stroke-width="1.6"/>
<circle cx="552.48" cy="123.20" r="3.05" fill="none" stroke="#d1d1d1" stroke-width="1.6"/>
<circle cx="551.75" cy="140.33" r="3.05" fill="none" stroke="#d1d1d1" stroke-width="1.6"/>
<circle cx="548.44" cy="123.85" r="3.05" fill="none" stroke="#d1d1d1" stroke-width="1.6"/>
<circle cx="550.10" cy="148.46" r="3.05" fill="none" stroke="#d1d1d1" stroke-width="1.6"/>
<circle cx="556.02" cy="159.48" r="3.05" fill="none" stroke="#d1d1d1" stroke-width="1.6"/>
<circle cx="557.38" cy="133.00" r="3.05" fill="none" stroke="#d1d1d1" stroke-width="1.6"/>
<circle cx="553.77" cy="157.83" r="3.05" fill="none" stroke="#d1d1d1" stroke-width="1.6"/>
<circle cx="546.45" cy="127.93" r="3.05" fill="none" stroke="#d1d1d1" stroke-width="1.6"/>
<circle cx="550.47" cy="115.56" r="3.05" fill="none" stroke="#d1d1d1" stroke-width="1.6"/>
<circle cx="557.05" cy="123.56" r="3.05" fill="none" stroke="#d1d1d1" stroke-width="1.6"/>
<circle cx="558.66" cy="128.01" r="3.05" fill="none" stroke="#d1d1d1" stroke-width="1.6"/>
<circle cx="546.50" cy="158.81" r="3.05" fill="none" stroke="#d1d1d1" stroke-width="1.6"/>
<circle cx="545.12" cy="137.92" r="3.05" fill="none" stroke="#d1d1d1" stroke-width="1.6"/>
<circle cx="556.44" cy="120.07" r="3.05" fill="none" stroke="#d1d1d1" stroke-width="1.6"/>
<circle cx="557.29" cy="162.32" r="3.05" fill="none" stroke="#d1d1d1" stroke-width="1.6"/>
<circle cx="550.86" cy="126.26" r="3.05" fill="none" stroke="#d1d1d1" stroke-width="1.6"/>
<circle cx="557.38" cy="145.07" r="3.05" fill="none" stroke="#d1d1d1" stroke-width="1.6"/>
<circle cx="551.33" cy="154.57" r="3.05" fill="none" stroke="#d1d1d1" stroke-width="1.6"/>
<circle cx="548.13" cy="154.43" r="3.05" fill="none" stroke="#d1d1d1" stroke-width="1.6"/>
<circle cx="554.06" cy="143.19" r="3.05" fill="none" stroke="#d1d1d1" stroke-width="1.6"/>
<circle cx="559.54" cy="136.04" r="3.05" fill="none" stroke="#d1d1d1" stroke-width="1.6"/>
<circle cx="549.76" cy="142.21" r="3.05" fill="none" stroke="#d1d1d1" stroke-width="1.6"/>
<circle cx="547.81" cy="120.70" r="3.05" fill="none" stroke="#d1d1d1" stroke-width="1.6"/>
<circle cx="551.32" cy="145.57" r="3.05" fill="none" stroke="#d1d1d1" stroke-width="1.6"/>
<circle cx="553.22" cy="151.08" r="3.05" fill="none" stroke="#d1d1d1" stroke-width="1.6"/>
<circle cx="544.92" cy="135.03" r="3.05" fill="none" stroke="#d1d1d1" stroke-width="1.6"/>
<circle cx="557.90" cy="151.82" r="3.05" fill="none" stroke="#d1d1d1" stroke-width="1.6"/>
<circle cx="547.42" cy="162.62" r="3.05" fill="none" stroke="#d1d1d1" stroke-width="1.6"/>
<circle cx="554.19" cy="138.28" r="3.05" fill="none" stroke="#d1d1d1" stroke-width="1.6"/>
<circle cx="559.21" cy="159.64" r="3.05" fill="none" stroke="#d1d1d1" stroke-width="1.6"/>
<circle cx="550.66" cy="110.07" r="3.05" fill="none" stroke="#d1d1d1" stroke-width="1.6"/>
<circle cx="545.08" cy="154.42" r="3.05" fill="none" stroke="#d1d1d1" stroke-width="1.6"/>
<circle cx="552.37" cy="128.67" r="3.05" fill="none" stroke="#d1d1d1" stroke-width="1.6"/>
<circle cx="554.31" cy="161.70" r="3.05" fill="none" stroke="#d1d1d1" stroke-width="1.6"/>
<circle cx="554.18" cy="154.66" r="3.05" fill="none" stroke="#d1d1d1" stroke-width="1.6"/>
<circle cx="548.33" cy="130.70" r="3.05" fill="none" stroke="#d1d1d1" stroke-width="1.6"/>
<circle cx="557.83" cy="148.07" r="3.05" fill="none" stroke="#d1d1d1" stroke-width="1.6"/>
<circle cx="547.63" cy="135.98" r="3.05" fill="none" stroke="#d1d1d1" stroke-width="1.6"/>
<circle cx="545.51" cy="123.46" r="3.05" fill="none" stroke="#d1d1d1" stroke-width="1.6"/>
<circle cx="549.37" cy="151.38" r="3.05" fill="none" stroke="#d1d1d1" stroke-width="1.6"/>
<circle cx="551.57" cy="137.38" r="3.05" fill="none" stroke="#d1d1d1" stroke-width="1.6"/>
<circle cx="548.88" cy="133.46" r="3.05" fill="none" stroke="#d1d1d1" stroke-width="1.6"/>
<circle cx="544.68" cy="130.03" r="3.05" fill="none" stroke="#d1d1d1" stroke-width="1.6"/>
<circle cx="555.50" cy="149.60" r="3.05" fill="none" stroke="#d1d1d1" stroke-width="1.6"/>
<circle cx="548.94" cy="159.99" r="3.05" fill="none" stroke="#d1d1d1" stroke-width="1.6"/>
<circle cx="554.56" cy="117.81" r="3.05" fill="none" stroke="#d1d1d1" stroke-width="1.6"/>
<circle cx="550.40" cy="56.00" r="3.05" fill="none" stroke="#d1d1d1" stroke-width="1.6"/>
<circle cx="553.10" cy="56.40" r="3.05" fill="none" stroke="#d1d1d1" stroke-width="1.6"/>
<circle cx="551.80" cy="60.00" r="3.05" fill="none" stroke="#d1d1d1" stroke-width="1.6"/>
<circle cx="551.10" cy="62.70" r="3.05" fill="none" stroke="#d1d1d1" stroke-width="1.6"/>
<circle cx="554.40" cy="64.10" r="3.05" fill="none" stroke="#d1d1d1" stroke-width="1.6"/>
<circle cx="551.10" cy="67.40" r="3.05" fill="none" stroke="#d1d1d1" stroke-width="1.6"/>
<circle cx="552.40" cy="76.10" r="3.05" fill="none" stroke="#d1d1d1" stroke-width="1.6"/>
<circle cx="552.40" cy="82.20" r="3.05" fill="none" stroke="#d1d1d1" stroke-width="1.6"/>
<circle cx="551.10" cy="84.90" r="3.05" fill="none" stroke="#d1d1d1" stroke-width="1.6"/>
<circle cx="553.10" cy="85.50" r="3.05" fill="none" stroke="#d1d1d1" stroke-width="1.6"/>
<circle cx="551.80" cy="87.50" r="3.05" fill="none" stroke="#d1d1d1" stroke-width="1.6"/>
<circle cx="550.40" cy="95.60" r="3.05" fill="none" stroke="#d1d1d1" stroke-width="1.6"/>
<circle cx="553.80" cy="94.30" r="3.05" fill="none" stroke="#d1d1d1" stroke-width="1.6"/>
<circle cx="551.80" cy="97.60" r="3.05" fill="none" stroke="#d1d1d1" stroke-width="1.6"/>
<circle cx="553.10" cy="99.60" r="3.05" fill="none" stroke="#d1d1d1" stroke-width="1.6"/>
<circle cx="547.60" cy="163.70" r="3.05" fill="none" stroke="#d1d1d1" stroke-width="1.6"/>
<circle cx="558.50" cy="167.00" r="3.05" fill="none" stroke="#d1d1d1" stroke-width="1.6"/>
<line x1="552.10" y1="103.70" x2="552.10" y2="114.00" stroke="#111" stroke-width="1.4024999999999999" />
<line x1="546.80" y1="103.70" x2="557.40" y2="103.70" stroke="#111" stroke-width="1.65" />
<line x1="546.80" y1="114.00" x2="557.40" y2="114.00" stroke="#111" stroke-width="1.65" />
<line x1="540.30" y1="108.00" x2="563.90" y2="108.00" stroke="#111" stroke-width="1.65" />
<circle cx="587.70" cy="64.40" r="3.05" fill="none" stroke="#a67bc8" stroke-width="1.6"/>
<circle cx="587.30" cy="78.40" r="3.05" fill="none" stroke="#a67bc8" stroke-width="1.6"/>
<circle cx="582.90" cy="86.20" r="3.05" fill="none" stroke="#a67bc8" stroke-width="1.6"/>
<circle cx="585.70" cy="85.60" r="3.05" fill="none" stroke="#a67bc8" stroke-width="1.6"/>
<circle cx="589.00" cy="87.30" r="3.05" fill="none" stroke="#a67bc8" stroke-width="1.6"/>
<circle cx="593.50" cy="86.70" r="3.05" fill="none" stroke="#a67bc8" stroke-width="1.6"/>
<circle cx="594.00" cy="91.20" r="3.05" fill="none" stroke="#a67bc8" stroke-width="1.6"/>
<circle cx="585.70" cy="91.20" r="3.05" fill="none" stroke="#a67bc8" stroke-width="1.6"/>
<circle cx="590.10" cy="92.30" r="3.05" fill="none" stroke="#a67bc8" stroke-width="1.6"/>
<circle cx="586.80" cy="95.10" r="3.05" fill="none" stroke="#a67bc8" stroke-width="1.6"/>
<circle cx="590.70" cy="95.70" r="3.05" fill="none" stroke="#a67bc8" stroke-width="1.6"/>
<circle cx="584.50" cy="98.50" r="3.05" fill="none" stroke="#a67bc8" stroke-width="1.6"/>
<circle cx="591.30" cy="98.50" r="3.05" fill="none" stroke="#a67bc8" stroke-width="1.6"/>
<circle cx="587.90" cy="100.20" r="3.05" fill="none" stroke="#a67bc8" stroke-width="1.6"/>
<circle cx="588.00" cy="89.00" r="3.05" fill="none" stroke="#a67bc8" stroke-width="1.6"/>
<circle cx="583.50" cy="90.00" r="3.05" fill="none" stroke="#a67bc8" stroke-width="1.6"/>
<circle cx="592.00" cy="89.50" r="3.05" fill="none" stroke="#a67bc8" stroke-width="1.6"/>
<circle cx="587.00" cy="97.50" r="3.05" fill="none" stroke="#a67bc8" stroke-width="1.6"/>
<circle cx="589.50" cy="102.00" r="3.05" fill="none" stroke="#a67bc8" stroke-width="1.6"/>
<circle cx="588.00" cy="104.00" r="3.05" fill="none" stroke="#a67bc8" stroke-width="1.6"/>
<circle cx="586.00" cy="107.00" r="3.05" fill="none" stroke="#a67bc8" stroke-width="1.6"/>
<circle cx="590.00" cy="108.00" r="3.05" fill="none" stroke="#a67bc8" stroke-width="1.6"/>
<circle cx="586.50" cy="114.50" r="3.05" fill="none" stroke="#a67bc8" stroke-width="1.6"/>
<circle cx="590.50" cy="115.00" r="3.05" fill="none" stroke="#a67bc8" stroke-width="1.6"/>
<circle cx="586.00" cy="118.50" r="3.05" fill="none" stroke="#a67bc8" stroke-width="1.6"/>
<circle cx="589.50" cy="119.50" r="3.05" fill="none" stroke="#a67bc8" stroke-width="1.6"/>
<circle cx="590.00" cy="125.00" r="3.05" fill="none" stroke="#a67bc8" stroke-width="1.6"/>
<circle cx="585.00" cy="128.50" r="3.05" fill="none" stroke="#a67bc8" stroke-width="1.6"/>
<circle cx="590.00" cy="129.00" r="3.05" fill="none" stroke="#a67bc8" stroke-width="1.6"/>
<circle cx="583.40" cy="131.80" r="3.05" fill="none" stroke="#a67bc8" stroke-width="1.6"/>
<circle cx="586.80" cy="130.70" r="3.05" fill="none" stroke="#a67bc8" stroke-width="1.6"/>
<circle cx="592.90" cy="131.80" r="3.05" fill="none" stroke="#a67bc8" stroke-width="1.6"/>
<circle cx="585.50" cy="134.00" r="3.05" fill="none" stroke="#a67bc8" stroke-width="1.6"/>
<circle cx="582.30" cy="135.70" r="3.05" fill="none" stroke="#a67bc8" stroke-width="1.6"/>
<circle cx="588.50" cy="134.60" r="3.05" fill="none" stroke="#a67bc8" stroke-width="1.6"/>
<circle cx="590.00" cy="136.50" r="3.05" fill="none" stroke="#a67bc8" stroke-width="1.6"/>
<circle cx="595.20" cy="136.80" r="3.05" fill="none" stroke="#a67bc8" stroke-width="1.6"/>
<circle cx="585.10" cy="138.50" r="3.05" fill="none" stroke="#a67bc8" stroke-width="1.6"/>
<circle cx="591.30" cy="139.00" r="3.05" fill="none" stroke="#a67bc8" stroke-width="1.6"/>
<circle cx="584.00" cy="141.00" r="3.05" fill="none" stroke="#a67bc8" stroke-width="1.6"/>
<circle cx="596.30" cy="141.30" r="3.05" fill="none" stroke="#a67bc8" stroke-width="1.6"/>
<circle cx="579.50" cy="143.50" r="3.05" fill="none" stroke="#a67bc8" stroke-width="1.6"/>
<circle cx="582.30" cy="144.60" r="3.05" fill="none" stroke="#a67bc8" stroke-width="1.6"/>
<circle cx="587.90" cy="142.40" r="3.05" fill="none" stroke="#a67bc8" stroke-width="1.6"/>
<circle cx="592.40" cy="141.30" r="3.05" fill="none" stroke="#a67bc8" stroke-width="1.6"/>
<circle cx="589.50" cy="145.00" r="3.05" fill="none" stroke="#a67bc8" stroke-width="1.6"/>
<circle cx="593.50" cy="144.50" r="3.05" fill="none" stroke="#a67bc8" stroke-width="1.6"/>
<circle cx="587.30" cy="147.40" r="3.05" fill="none" stroke="#a67bc8" stroke-width="1.6"/>
<circle cx="587.90" cy="154.10" r="3.05" fill="none" stroke="#a67bc8" stroke-width="1.6"/>
<line x1="587.90" y1="101.80" x2="587.90" y2="110.60" stroke="#111" stroke-width="1.4024999999999999" />
<line x1="582.20" y1="101.80" x2="593.60" y2="101.80" stroke="#111" stroke-width="1.65" />
<line x1="582.20" y1="110.60" x2="593.60" y2="110.60" stroke="#111" stroke-width="1.65" />
<line x1="576.20" y1="105.40" x2="599.60" y2="105.40" stroke="#111" stroke-width="1.65" />
<rect x="620.55" y="68.65" width="5.7" height="5.7" fill="none" stroke="#d1d1d1" stroke-width="1.35"/>
<rect x="622.25" y="95.55" width="5.7" height="5.7" fill="none" stroke="#d1d1d1" stroke-width="1.35"/>
<rect x="618.95" y="101.35" width="5.7" height="5.7" fill="none" stroke="#d1d1d1" stroke-width="1.35"/>
<rect x="619.75" y="113.15" width="5.7" height="5.7" fill="none" stroke="#d1d1d1" stroke-width="1.35"/>
<rect x="620.55" y="118.15" width="5.7" height="5.7" fill="none" stroke="#d1d1d1" stroke-width="1.35"/>
<rect x="620.55" y="121.45" width="5.7" height="5.7" fill="none" stroke="#d1d1d1" stroke-width="1.35"/>
<rect x="615.85" y="137.85" width="5.7" height="5.7" fill="none" stroke="#d1d1d1" stroke-width="1.35"/>
<rect x="619.45" y="137.55" width="5.7" height="5.7" fill="none" stroke="#d1d1d1" stroke-width="1.35"/>
<rect x="621.95" y="136.15" width="5.7" height="5.7" fill="none" stroke="#d1d1d1" stroke-width="1.35"/>
<rect x="625.55" y="141.15" width="5.7" height="5.7" fill="none" stroke="#d1d1d1" stroke-width="1.35"/>
<rect x="617.35" y="144.35" width="5.7" height="5.7" fill="none" stroke="#d1d1d1" stroke-width="1.35"/>
<rect x="621.65" y="144.35" width="5.7" height="5.7" fill="none" stroke="#d1d1d1" stroke-width="1.35"/>
<rect x="619.45" y="147.15" width="5.7" height="5.7" fill="none" stroke="#d1d1d1" stroke-width="1.35"/>
<rect x="623.75" y="146.45" width="5.7" height="5.7" fill="none" stroke="#d1d1d1" stroke-width="1.35"/>
<rect x="628.05" y="147.55" width="5.7" height="5.7" fill="none" stroke="#d1d1d1" stroke-width="1.35"/>
<rect x="611.25" y="151.45" width="5.7" height="5.7" fill="none" stroke="#d1d1d1" stroke-width="1.35"/>
<rect x="613.75" y="151.45" width="5.7" height="5.7" fill="none" stroke="#d1d1d1" stroke-width="1.35"/>
<rect x="616.25" y="151.85" width="5.7" height="5.7" fill="none" stroke="#d1d1d1" stroke-width="1.35"/>
<rect x="618.75" y="152.15" width="5.7" height="5.7" fill="none" stroke="#d1d1d1" stroke-width="1.35"/>
<rect x="621.65" y="150.15" width="5.7" height="5.7" fill="none" stroke="#d1d1d1" stroke-width="1.35"/>
<rect x="624.15" y="153.65" width="5.7" height="5.7" fill="none" stroke="#d1d1d1" stroke-width="1.35"/>
<rect x="626.65" y="154.35" width="5.7" height="5.7" fill="none" stroke="#d1d1d1" stroke-width="1.35"/>
<rect x="629.45" y="154.35" width="5.7" height="5.7" fill="none" stroke="#d1d1d1" stroke-width="1.35"/>
<line x1="623.60" y1="112.60" x2="623.60" y2="131.00" stroke="#111" stroke-width="1.4024999999999999" />
<line x1="617.75" y1="112.60" x2="629.45" y2="112.60" stroke="#111" stroke-width="1.65" />
<line x1="617.75" y1="131.00" x2="629.45" y2="131.00" stroke="#111" stroke-width="1.65" />
<line x1="612.00" y1="120.10" x2="635.20" y2="120.10" stroke="#111" stroke-width="1.65" />
<line x1="659.30" y1="84.80" x2="659.30" y2="105.00" stroke="#a67bc8" stroke-width="1.105" />
<line x1="653.90" y1="84.80" x2="664.70" y2="84.80" stroke="#a67bc8" stroke-width="1.3" />
<line x1="653.90" y1="105.00" x2="664.70" y2="105.00" stroke="#a67bc8" stroke-width="1.3" />
<line x1="647.40" y1="92.60" x2="671.20" y2="92.60" stroke="#111" stroke-width="1.65" />
<rect x="653.95" y="52.75" width="5.7" height="5.7" fill="none" stroke="#a67bc8" stroke-width="1.35"/>
<rect x="658.45" y="60.65" width="5.7" height="5.7" fill="none" stroke="#a67bc8" stroke-width="1.35"/>
<rect x="656.25" y="71.85" width="5.7" height="5.7" fill="none" stroke="#a67bc8" stroke-width="1.35"/>
<rect x="653.95" y="95.35" width="5.7" height="5.7" fill="none" stroke="#a67bc8" stroke-width="1.35"/>
<rect x="659.15" y="95.35" width="5.7" height="5.7" fill="none" stroke="#a67bc8" stroke-width="1.35"/>
<rect x="653.95" y="122.35" width="5.7" height="5.7" fill="none" stroke="#a67bc8" stroke-width="1.35"/>
<rect x="659.55" y="126.85" width="5.7" height="5.7" fill="none" stroke="#a67bc8" stroke-width="1.35"/>
<rect x="663.65" y="127.95" width="5.7" height="5.7" fill="none" stroke="#a67bc8" stroke-width="1.35"/>
<rect x="649.45" y="129.05" width="5.7" height="5.7" fill="none" stroke="#a67bc8" stroke-width="1.35"/>
<rect x="647.25" y="135.75" width="5.7" height="5.7" fill="none" stroke="#a67bc8" stroke-width="1.35"/>
<rect x="651.75" y="136.85" width="5.7" height="5.7" fill="none" stroke="#a67bc8" stroke-width="1.35"/>
<rect x="655.05" y="138.05" width="5.7" height="5.7" fill="none" stroke="#a67bc8" stroke-width="1.35"/>
<rect x="658.45" y="139.15" width="5.7" height="5.7" fill="none" stroke="#a67bc8" stroke-width="1.35"/>
<rect x="661.85" y="139.15" width="5.7" height="5.7" fill="none" stroke="#a67bc8" stroke-width="1.35"/>
<rect x="665.15" y="139.55" width="5.7" height="5.7" fill="none" stroke="#a67bc8" stroke-width="1.35"/>
<line x1="647.20" y1="92.60" x2="671.00" y2="92.60" stroke="#111" stroke-width="1.7" />
<text x="569.10" y="40.90" font-size="11.6" text-anchor="middle" >n.s.</text>
<text x="640.60" y="40.90" font-size="11.6" text-anchor="middle" >n.s.</text>
<text x="568.25" y="197.40" font-size="11.6" text-anchor="middle" >10kPa</text>
<text x="647.10" y="197.40" font-size="11.6" text-anchor="middle" >35kPa</text>
<line x1="65.90" y1="243.10" x2="65.90" y2="397.80" stroke="#111" stroke-width="1.8" />
<line x1="59.60" y1="397.80" x2="221.00" y2="397.80" stroke="#111" stroke-width="1.8" />
<line x1="59.60" y1="244.00" x2="65.90" y2="244.00" stroke="#111" stroke-width="1.6" />
<text x="57.40" y="248.50" font-size="11.6" text-anchor="end">10<tspan font-size="7.5" dy="-3.4" dx="1.4">-14</tspan></text>
<line x1="59.60" y1="274.76" x2="65.90" y2="274.76" stroke="#111" stroke-width="1.6" />
<text x="57.40" y="279.26" font-size="11.6" text-anchor="end">10<tspan font-size="7.5" dy="-3.4" dx="1.4">-15</tspan></text>
<line x1="59.60" y1="305.52" x2="65.90" y2="305.52" stroke="#111" stroke-width="1.6" />
<text x="57.40" y="310.02" font-size="11.6" text-anchor="end">10<tspan font-size="7.5" dy="-3.4" dx="1.4">-16</tspan></text>
<line x1="59.60" y1="336.28" x2="65.90" y2="336.28" stroke="#111" stroke-width="1.6" />
<text x="57.40" y="340.78" font-size="11.6" text-anchor="end">10<tspan font-size="7.5" dy="-3.4" dx="1.4">-17</tspan></text>
<line x1="59.60" y1="367.04" x2="65.90" y2="367.04" stroke="#111" stroke-width="1.6" />
<text x="57.40" y="371.54" font-size="11.6" text-anchor="end">10<tspan font-size="7.5" dy="-3.4" dx="1.4">-18</tspan></text>
<line x1="59.60" y1="397.80" x2="65.90" y2="397.80" stroke="#111" stroke-width="1.6" />
<text x="57.40" y="402.30" font-size="11.6" text-anchor="end">10<tspan font-size="7.5" dy="-3.4" dx="1.4">-19</tspan></text>
<line x1="143.8" y1="243" x2="143.8" y2="395.3" stroke="#333" stroke-width="1.15" stroke-dasharray="1.45 1.5"/>
<circle cx="84.02" cy="358.92" r="3.05" fill="none" stroke="#d1d1d1" stroke-width="1.6"/>
<circle cx="84.63" cy="351.82" r="3.05" fill="none" stroke="#d1d1d1" stroke-width="1.6"/>
<circle cx="91.49" cy="356.26" r="3.05" fill="none" stroke="#d1d1d1" stroke-width="1.6"/>
<circle cx="95.67" cy="355.58" r="3.05" fill="none" stroke="#d1d1d1" stroke-width="1.6"/>
<circle cx="87.19" cy="336.43" r="3.05" fill="none" stroke="#d1d1d1" stroke-width="1.6"/>
<circle cx="89.12" cy="357.67" r="3.05" fill="none" stroke="#d1d1d1" stroke-width="1.6"/>
<circle cx="83.30" cy="342.02" r="3.05" fill="none" stroke="#d1d1d1" stroke-width="1.6"/>
<circle cx="87.63" cy="346.51" r="3.05" fill="none" stroke="#d1d1d1" stroke-width="1.6"/>
<circle cx="97.09" cy="346.66" r="3.05" fill="none" stroke="#d1d1d1" stroke-width="1.6"/>
<circle cx="88.34" cy="349.01" r="3.05" fill="none" stroke="#d1d1d1" stroke-width="1.6"/>
<circle cx="86.97" cy="329.58" r="3.05" fill="none" stroke="#d1d1d1" stroke-width="1.6"/>
<circle cx="93.25" cy="334.34" r="3.05" fill="none" stroke="#d1d1d1" stroke-width="1.6"/>
<circle cx="93.08" cy="350.41" r="3.05" fill="none" stroke="#d1d1d1" stroke-width="1.6"/>
<circle cx="84.99" cy="332.60" r="3.05" fill="none" stroke="#d1d1d1" stroke-width="1.6"/>
<circle cx="95.04" cy="343.53" r="3.05" fill="none" stroke="#d1d1d1" stroke-width="1.6"/>
<circle cx="84.71" cy="344.56" r="3.05" fill="none" stroke="#d1d1d1" stroke-width="1.6"/>
<circle cx="86.97" cy="354.57" r="3.05" fill="none" stroke="#d1d1d1" stroke-width="1.6"/>
<circle cx="92.19" cy="330.28" r="3.05" fill="none" stroke="#d1d1d1" stroke-width="1.6"/>
<circle cx="89.51" cy="344.50" r="3.05" fill="none" stroke="#d1d1d1" stroke-width="1.6"/>
<circle cx="90.81" cy="353.11" r="3.05" fill="none" stroke="#d1d1d1" stroke-width="1.6"/>
<circle cx="91.48" cy="339.33" r="3.05" fill="none" stroke="#d1d1d1" stroke-width="1.6"/>
<circle cx="87.32" cy="340.77" r="3.05" fill="none" stroke="#d1d1d1" stroke-width="1.6"/>
<circle cx="94.90" cy="336.73" r="3.05" fill="none" stroke="#d1d1d1" stroke-width="1.6"/>
<circle cx="93.85" cy="341.21" r="3.05" fill="none" stroke="#d1d1d1" stroke-width="1.6"/>
<circle cx="90.33" cy="333.82" r="3.05" fill="none" stroke="#d1d1d1" stroke-width="1.6"/>
<circle cx="90.81" cy="346.94" r="3.05" fill="none" stroke="#d1d1d1" stroke-width="1.6"/>
<circle cx="84.60" cy="337.45" r="3.05" fill="none" stroke="#d1d1d1" stroke-width="1.6"/>
<circle cx="83.66" cy="355.83" r="3.05" fill="none" stroke="#d1d1d1" stroke-width="1.6"/>
<circle cx="97.50" cy="349.74" r="3.05" fill="none" stroke="#d1d1d1" stroke-width="1.6"/>
<circle cx="85.73" cy="349.46" r="3.05" fill="none" stroke="#d1d1d1" stroke-width="1.6"/>
<circle cx="91.40" cy="342.28" r="3.05" fill="none" stroke="#d1d1d1" stroke-width="1.6"/>
<circle cx="83.08" cy="349.36" r="3.05" fill="none" stroke="#d1d1d1" stroke-width="1.6"/>
<circle cx="92.76" cy="359.01" r="3.05" fill="none" stroke="#d1d1d1" stroke-width="1.6"/>
<circle cx="93.67" cy="346.38" r="3.05" fill="none" stroke="#d1d1d1" stroke-width="1.6"/>
<circle cx="95.84" cy="352.12" r="3.05" fill="none" stroke="#d1d1d1" stroke-width="1.6"/>
<circle cx="91.51" cy="336.33" r="3.05" fill="none" stroke="#d1d1d1" stroke-width="1.6"/>
<circle cx="82.88" cy="346.62" r="3.05" fill="none" stroke="#d1d1d1" stroke-width="1.6"/>
<circle cx="88.29" cy="351.87" r="3.05" fill="none" stroke="#d1d1d1" stroke-width="1.6"/>
<circle cx="87.15" cy="359.64" r="3.05" fill="none" stroke="#d1d1d1" stroke-width="1.6"/>
<circle cx="96.52" cy="339.74" r="3.05" fill="none" stroke="#d1d1d1" stroke-width="1.6"/>
<circle cx="89.58" cy="329.25" r="3.05" fill="none" stroke="#d1d1d1" stroke-width="1.6"/>
<circle cx="86.27" cy="357.08" r="3.05" fill="none" stroke="#d1d1d1" stroke-width="1.6"/>
<circle cx="87.54" cy="333.54" r="3.05" fill="none" stroke="#d1d1d1" stroke-width="1.6"/>
<circle cx="95.03" cy="348.65" r="3.05" fill="none" stroke="#d1d1d1" stroke-width="1.6"/>
<circle cx="90.32" cy="360.00" r="3.05" fill="none" stroke="#d1d1d1" stroke-width="1.6"/>
<circle cx="82.57" cy="339.17" r="3.05" fill="none" stroke="#d1d1d1" stroke-width="1.6"/>
<circle cx="83.81" cy="334.95" r="3.05" fill="none" stroke="#d1d1d1" stroke-width="1.6"/>
<circle cx="93.36" cy="353.83" r="3.05" fill="none" stroke="#d1d1d1" stroke-width="1.6"/>
<circle cx="89.30" cy="284.90" r="3.05" fill="none" stroke="#d1d1d1" stroke-width="1.6"/>
<circle cx="89.90" cy="291.00" r="3.05" fill="none" stroke="#d1d1d1" stroke-width="1.6"/>
<circle cx="89.30" cy="297.20" r="3.05" fill="none" stroke="#d1d1d1" stroke-width="1.6"/>
<circle cx="90.20" cy="302.70" r="3.05" fill="none" stroke="#d1d1d1" stroke-width="1.6"/>
<circle cx="89.90" cy="307.00" r="3.05" fill="none" stroke="#d1d1d1" stroke-width="1.6"/>
<circle cx="88.60" cy="311.40" r="3.05" fill="none" stroke="#d1d1d1" stroke-width="1.6"/>
<circle cx="89.20" cy="376.30" r="3.05" fill="none" stroke="#d1d1d1" stroke-width="1.6"/>
<circle cx="90.40" cy="381.40" r="3.05" fill="none" stroke="#d1d1d1" stroke-width="1.6"/>
<circle cx="85.30" cy="362.20" r="3.05" fill="none" stroke="#d1d1d1" stroke-width="1.6"/>
<line x1="89.60" y1="321.60" x2="89.60" y2="330.20" stroke="#111" stroke-width="1.4024999999999999" />
<line x1="83.75" y1="321.60" x2="95.45" y2="321.60" stroke="#111" stroke-width="1.65" />
<line x1="83.75" y1="330.20" x2="95.45" y2="330.20" stroke="#111" stroke-width="1.65" />
<line x1="78.20" y1="325.30" x2="101.00" y2="325.30" stroke="#111" stroke-width="1.65" />
<circle cx="124.44" cy="316.48" r="3.05" fill="none" stroke="#a67bc8" stroke-width="1.6"/>
<circle cx="127.22" cy="317.88" r="3.05" fill="none" stroke="#a67bc8" stroke-width="1.6"/>
<circle cx="126.70" cy="313.51" r="3.05" fill="none" stroke="#a67bc8" stroke-width="1.6"/>
<circle cx="123.25" cy="306.29" r="3.05" fill="none" stroke="#a67bc8" stroke-width="1.6"/>
<circle cx="119.86" cy="315.72" r="3.05" fill="none" stroke="#a67bc8" stroke-width="1.6"/>
<circle cx="123.45" cy="327.56" r="3.05" fill="none" stroke="#a67bc8" stroke-width="1.6"/>
<circle cx="131.40" cy="328.89" r="3.05" fill="none" stroke="#a67bc8" stroke-width="1.6"/>
<circle cx="130.09" cy="313.35" r="3.05" fill="none" stroke="#a67bc8" stroke-width="1.6"/>
<circle cx="127.63" cy="329.42" r="3.05" fill="none" stroke="#a67bc8" stroke-width="1.6"/>
<circle cx="123.17" cy="324.18" r="3.05" fill="none" stroke="#a67bc8" stroke-width="1.6"/>
<circle cx="122.57" cy="312.51" r="3.05" fill="none" stroke="#a67bc8" stroke-width="1.6"/>
<circle cx="132.62" cy="324.65" r="3.05" fill="none" stroke="#a67bc8" stroke-width="1.6"/>
<circle cx="126.58" cy="334.24" r="3.05" fill="none" stroke="#a67bc8" stroke-width="1.6"/>
<circle cx="127.46" cy="307.91" r="3.05" fill="none" stroke="#a67bc8" stroke-width="1.6"/>
<circle cx="119.37" cy="327.11" r="3.05" fill="none" stroke="#a67bc8" stroke-width="1.6"/>
<circle cx="126.16" cy="323.78" r="3.05" fill="none" stroke="#a67bc8" stroke-width="1.6"/>
<circle cx="120.86" cy="308.70" r="3.05" fill="none" stroke="#a67bc8" stroke-width="1.6"/>
<circle cx="122.42" cy="332.64" r="3.05" fill="none" stroke="#a67bc8" stroke-width="1.6"/>
<circle cx="119.02" cy="311.17" r="3.05" fill="none" stroke="#a67bc8" stroke-width="1.6"/>
<circle cx="131.95" cy="321.24" r="3.05" fill="none" stroke="#a67bc8" stroke-width="1.6"/>
<circle cx="118.69" cy="319.36" r="3.05" fill="none" stroke="#a67bc8" stroke-width="1.6"/>
<circle cx="125.48" cy="320.57" r="3.05" fill="none" stroke="#a67bc8" stroke-width="1.6"/>
<circle cx="129.29" cy="325.39" r="3.05" fill="none" stroke="#a67bc8" stroke-width="1.6"/>
<circle cx="119.64" cy="324.07" r="3.05" fill="none" stroke="#a67bc8" stroke-width="1.6"/>
<circle cx="130.38" cy="308.32" r="3.05" fill="none" stroke="#a67bc8" stroke-width="1.6"/>
<circle cx="131.61" cy="318.09" r="3.05" fill="none" stroke="#a67bc8" stroke-width="1.6"/>
<circle cx="124.91" cy="330.60" r="3.05" fill="none" stroke="#a67bc8" stroke-width="1.6"/>
<circle cx="124.27" cy="309.42" r="3.05" fill="none" stroke="#a67bc8" stroke-width="1.6"/>
<circle cx="122.39" cy="318.68" r="3.05" fill="none" stroke="#a67bc8" stroke-width="1.6"/>
<circle cx="128.97" cy="320.71" r="3.05" fill="none" stroke="#a67bc8" stroke-width="1.6"/>
<circle cx="129.61" cy="331.56" r="3.05" fill="none" stroke="#a67bc8" stroke-width="1.6"/>
<circle cx="121.17" cy="329.85" r="3.05" fill="none" stroke="#a67bc8" stroke-width="1.6"/>
<circle cx="128.67" cy="310.76" r="3.05" fill="none" stroke="#a67bc8" stroke-width="1.6"/>
<circle cx="121.27" cy="321.67" r="3.05" fill="none" stroke="#a67bc8" stroke-width="1.6"/>
<circle cx="122.80" cy="280.60" r="3.05" fill="none" stroke="#a67bc8" stroke-width="1.6"/>
<circle cx="127.10" cy="280.20" r="3.05" fill="none" stroke="#a67bc8" stroke-width="1.6"/>
<circle cx="123.90" cy="283.80" r="3.05" fill="none" stroke="#a67bc8" stroke-width="1.6"/>
<circle cx="127.10" cy="287.00" r="3.05" fill="none" stroke="#a67bc8" stroke-width="1.6"/>
<circle cx="123.90" cy="291.20" r="3.05" fill="none" stroke="#a67bc8" stroke-width="1.6"/>
<circle cx="126.00" cy="290.20" r="3.05" fill="none" stroke="#a67bc8" stroke-width="1.6"/>
<circle cx="127.10" cy="338.90" r="3.05" fill="none" stroke="#a67bc8" stroke-width="1.6"/>
<circle cx="125.40" cy="358.00" r="3.05" fill="none" stroke="#a67bc8" stroke-width="1.6"/>
<line x1="125.00" y1="299.70" x2="125.00" y2="306.10" stroke="#111" stroke-width="1.4024999999999999" />
<line x1="119.70" y1="299.70" x2="130.30" y2="299.70" stroke="#111" stroke-width="1.65" />
<line x1="119.70" y1="306.10" x2="130.30" y2="306.10" stroke="#111" stroke-width="1.65" />
<line x1="113.35" y1="302.90" x2="136.65" y2="302.90" stroke="#111" stroke-width="1.65" />
<rect x="157.75" y="262.75" width="5.7" height="5.7" fill="none" stroke="#d1d1d1" stroke-width="1.35"/>
<rect x="157.85" y="288.85" width="5.7" height="5.7" fill="none" stroke="#d1d1d1" stroke-width="1.35"/>
<rect x="158.15" y="295.15" width="5.7" height="5.7" fill="none" stroke="#d1d1d1" stroke-width="1.35"/>
<rect x="157.15" y="302.15" width="5.7" height="5.7" fill="none" stroke="#d1d1d1" stroke-width="1.35"/>
<rect x="158.15" y="308.15" width="5.7" height="5.7" fill="none" stroke="#d1d1d1" stroke-width="1.35"/>
<rect x="157.65" y="311.65" width="5.7" height="5.7" fill="none" stroke="#d1d1d1" stroke-width="1.35"/>
<rect x="149.65" y="317.15" width="5.7" height="5.7" fill="none" stroke="#d1d1d1" stroke-width="1.35"/>
<rect x="152.65" y="317.15" width="5.7" height="5.7" fill="none" stroke="#d1d1d1" stroke-width="1.35"/>
<rect x="155.65" y="316.65" width="5.7" height="5.7" fill="none" stroke="#d1d1d1" stroke-width="1.35"/>
<rect x="159.15" y="316.65" width="5.7" height="5.7" fill="none" stroke="#d1d1d1" stroke-width="1.35"/>
<rect x="162.15" y="317.15" width="5.7" height="5.7" fill="none" stroke="#d1d1d1" stroke-width="1.35"/>
<rect x="165.15" y="318.65" width="5.7" height="5.7" fill="none" stroke="#d1d1d1" stroke-width="1.35"/>
<rect x="150.65" y="320.65" width="5.7" height="5.7" fill="none" stroke="#d1d1d1" stroke-width="1.35"/>
<rect x="154.15" y="320.15" width="5.7" height="5.7" fill="none" stroke="#d1d1d1" stroke-width="1.35"/>
<rect x="157.65" y="320.65" width="5.7" height="5.7" fill="none" stroke="#d1d1d1" stroke-width="1.35"/>
<rect x="161.15" y="320.15" width="5.7" height="5.7" fill="none" stroke="#d1d1d1" stroke-width="1.35"/>
<rect x="164.65" y="321.65" width="5.7" height="5.7" fill="none" stroke="#d1d1d1" stroke-width="1.35"/>
<rect x="153.15" y="324.15" width="5.7" height="5.7" fill="none" stroke="#d1d1d1" stroke-width="1.35"/>
<rect x="157.15" y="324.65" width="5.7" height="5.7" fill="none" stroke="#d1d1d1" stroke-width="1.35"/>
<rect x="161.15" y="325.15" width="5.7" height="5.7" fill="none" stroke="#d1d1d1" stroke-width="1.35"/>
<rect x="155.15" y="327.15" width="5.7" height="5.7" fill="none" stroke="#d1d1d1" stroke-width="1.35"/>
<rect x="159.15" y="328.15" width="5.7" height="5.7" fill="none" stroke="#d1d1d1" stroke-width="1.35"/>
<rect x="155.65" y="332.65" width="5.7" height="5.7" fill="none" stroke="#d1d1d1" stroke-width="1.35"/>
<rect x="154.45" y="335.95" width="5.7" height="5.7" fill="none" stroke="#d1d1d1" stroke-width="1.35"/>
<rect x="156.75" y="342.25" width="5.7" height="5.7" fill="none" stroke="#d1d1d1" stroke-width="1.35"/>
<rect x="157.85" y="349.05" width="5.7" height="5.7" fill="none" stroke="#d1d1d1" stroke-width="1.35"/>
<rect x="157.45" y="369.15" width="5.7" height="5.7" fill="none" stroke="#d1d1d1" stroke-width="1.35"/>
<line x1="160.80" y1="295.80" x2="160.80" y2="319.60" stroke="#111" stroke-width="1.4024999999999999" />
<line x1="155.15" y1="295.80" x2="166.45" y2="295.80" stroke="#111" stroke-width="1.65" />
<line x1="155.15" y1="319.60" x2="166.45" y2="319.60" stroke="#111" stroke-width="1.65" />
<line x1="149.00" y1="302.60" x2="172.60" y2="302.60" stroke="#111" stroke-width="1.65" />
<line x1="196.40" y1="278.70" x2="196.40" y2="288.90" stroke="#a67bc8" stroke-width="1.105" />
<line x1="191.70" y1="278.70" x2="201.10" y2="278.70" stroke="#a67bc8" stroke-width="1.3" />
<line x1="191.70" y1="288.90" x2="201.10" y2="288.90" stroke="#a67bc8" stroke-width="1.3" />
<line x1="184.75" y1="283.50" x2="208.05" y2="283.50" stroke="#111" stroke-width="1.65" />
<rect x="193.15" y="255.15" width="5.7" height="5.7" fill="none" stroke="#a67bc8" stroke-width="1.35"/>
<rect x="189.85" y="265.95" width="5.7" height="5.7" fill="none" stroke="#a67bc8" stroke-width="1.35"/>
<rect x="196.55" y="265.95" width="5.7" height="5.7" fill="none" stroke="#a67bc8" stroke-width="1.35"/>
<rect x="187.75" y="290.05" width="5.7" height="5.7" fill="none" stroke="#a67bc8" stroke-width="1.35"/>
<rect x="193.15" y="292.75" width="5.7" height="5.7" fill="none" stroke="#a67bc8" stroke-width="1.35"/>
<rect x="198.45" y="290.05" width="5.7" height="5.7" fill="none" stroke="#a67bc8" stroke-width="1.35"/>
<rect x="190.45" y="302.15" width="5.7" height="5.7" fill="none" stroke="#a67bc8" stroke-width="1.35"/>
<rect x="185.05" y="306.65" width="5.7" height="5.7" fill="none" stroke="#a67bc8" stroke-width="1.35"/>
<rect x="195.75" y="304.85" width="5.7" height="5.7" fill="none" stroke="#a67bc8" stroke-width="1.35"/>
<rect x="201.65" y="306.65" width="5.7" height="5.7" fill="none" stroke="#a67bc8" stroke-width="1.35"/>
<rect x="190.45" y="311.55" width="5.7" height="5.7" fill="none" stroke="#a67bc8" stroke-width="1.35"/>
<rect x="196.55" y="316.85" width="5.7" height="5.7" fill="none" stroke="#a67bc8" stroke-width="1.35"/>
<rect x="187.75" y="319.55" width="5.7" height="5.7" fill="none" stroke="#a67bc8" stroke-width="1.35"/>
<rect x="193.15" y="326.25" width="5.7" height="5.7" fill="none" stroke="#a67bc8" stroke-width="1.35"/>
<rect x="198.45" y="327.65" width="5.7" height="5.7" fill="none" stroke="#a67bc8" stroke-width="1.35"/>
<line x1="184.70" y1="283.50" x2="208.00" y2="283.50" stroke="#111" stroke-width="1.7" />
<text x="108.40" y="256.90" font-size="11.6" text-anchor="middle" >P&lt;0.0001</text>
<text x="177.50" y="256.90" font-size="11.6" text-anchor="middle" >n.s.</text>
<text x="99.05" y="414.30" font-size="11.6" text-anchor="middle" >10kPa</text>
<text x="177.70" y="414.30" font-size="11.6" text-anchor="middle" >35kPa</text>
<line x1="298.30" y1="242.00" x2="298.30" y2="397.50" stroke="#111" stroke-width="1.8" />
<line x1="292.00" y1="397.50" x2="453.80" y2="397.50" stroke="#111" stroke-width="1.8" />
<line x1="292.00" y1="242.90" x2="298.30" y2="242.90" stroke="#111" stroke-width="1.6" />
<text x="289.80" y="247.40" font-size="11.6" text-anchor="end">10<tspan font-size="7.5" dy="-3.4" dx="1.4">4</tspan></text>
<line x1="292.00" y1="294.43" x2="298.30" y2="294.43" stroke="#111" stroke-width="1.6" />
<text x="289.80" y="298.93" font-size="11.6" text-anchor="end">10<tspan font-size="7.5" dy="-3.4" dx="1.4">3</tspan></text>
<line x1="292.00" y1="345.97" x2="298.30" y2="345.97" stroke="#111" stroke-width="1.6" />
<text x="289.80" y="350.47" font-size="11.6" text-anchor="end">10<tspan font-size="7.5" dy="-3.4" dx="1.4">2</tspan></text>
<line x1="292.00" y1="397.50" x2="298.30" y2="397.50" stroke="#111" stroke-width="1.6" />
<text x="289.80" y="402.00" font-size="11.6" text-anchor="end">10<tspan font-size="7.5" dy="-3.4" dx="1.4">1</tspan></text>
<line x1="375.1" y1="241.9" x2="375.1" y2="395.0" stroke="#333" stroke-width="1.15" stroke-dasharray="1.45 1.5"/>
<circle cx="326.93" cy="331.46" r="3.05" fill="none" stroke="#d1d1d1" stroke-width="1.6"/>
<circle cx="322.47" cy="346.63" r="3.05" fill="none" stroke="#d1d1d1" stroke-width="1.6"/>
<circle cx="324.82" cy="339.91" r="3.05" fill="none" stroke="#d1d1d1" stroke-width="1.6"/>
<circle cx="317.15" cy="336.28" r="3.05" fill="none" stroke="#d1d1d1" stroke-width="1.6"/>
<circle cx="322.21" cy="314.33" r="3.05" fill="none" stroke="#d1d1d1" stroke-width="1.6"/>
<circle cx="319.94" cy="339.23" r="3.05" fill="none" stroke="#d1d1d1" stroke-width="1.6"/>
<circle cx="319.37" cy="330.76" r="3.05" fill="none" stroke="#d1d1d1" stroke-width="1.6"/>
<circle cx="325.35" cy="342.68" r="3.05" fill="none" stroke="#d1d1d1" stroke-width="1.6"/>
<circle cx="330.00" cy="327.30" r="3.05" fill="none" stroke="#d1d1d1" stroke-width="1.6"/>
<circle cx="320.97" cy="343.69" r="3.05" fill="none" stroke="#d1d1d1" stroke-width="1.6"/>
<circle cx="323.16" cy="337.81" r="3.05" fill="none" stroke="#d1d1d1" stroke-width="1.6"/>
<circle cx="324.60" cy="316.23" r="3.05" fill="none" stroke="#d1d1d1" stroke-width="1.6"/>
<circle cx="326.55" cy="326.37" r="3.05" fill="none" stroke="#d1d1d1" stroke-width="1.6"/>
<circle cx="325.91" cy="322.65" r="3.05" fill="none" stroke="#d1d1d1" stroke-width="1.6"/>
<circle cx="323.47" cy="320.07" r="3.05" fill="none" stroke="#d1d1d1" stroke-width="1.6"/>
<circle cx="322.97" cy="332.62" r="3.05" fill="none" stroke="#d1d1d1" stroke-width="1.6"/>
<circle cx="318.80" cy="333.41" r="3.05" fill="none" stroke="#d1d1d1" stroke-width="1.6"/>
<circle cx="321.96" cy="325.44" r="3.05" fill="none" stroke="#d1d1d1" stroke-width="1.6"/>
<circle cx="317.75" cy="326.95" r="3.05" fill="none" stroke="#d1d1d1" stroke-width="1.6"/>
<circle cx="318.49" cy="322.10" r="3.05" fill="none" stroke="#d1d1d1" stroke-width="1.6"/>
<circle cx="320.79" cy="317.22" r="3.05" fill="none" stroke="#d1d1d1" stroke-width="1.6"/>
<circle cx="320.98" cy="336.15" r="3.05" fill="none" stroke="#d1d1d1" stroke-width="1.6"/>
<circle cx="322.37" cy="328.82" r="3.05" fill="none" stroke="#d1d1d1" stroke-width="1.6"/>
<circle cx="326.93" cy="335.87" r="3.05" fill="none" stroke="#d1d1d1" stroke-width="1.6"/>
<circle cx="322.06" cy="340.87" r="3.05" fill="none" stroke="#d1d1d1" stroke-width="1.6"/>
<circle cx="326.14" cy="319.29" r="3.05" fill="none" stroke="#d1d1d1" stroke-width="1.6"/>
<circle cx="320.70" cy="320.44" r="3.05" fill="none" stroke="#d1d1d1" stroke-width="1.6"/>
<circle cx="316.79" cy="331.34" r="3.05" fill="none" stroke="#d1d1d1" stroke-width="1.6"/>
<circle cx="315.58" cy="324.84" r="3.05" fill="none" stroke="#d1d1d1" stroke-width="1.6"/>
<circle cx="315.88" cy="328.87" r="3.05" fill="none" stroke="#d1d1d1" stroke-width="1.6"/>
<circle cx="325.66" cy="329.04" r="3.05" fill="none" stroke="#d1d1d1" stroke-width="1.6"/>
<circle cx="328.78" cy="324.27" r="3.05" fill="none" stroke="#d1d1d1" stroke-width="1.6"/>
<circle cx="328.85" cy="333.49" r="3.05" fill="none" stroke="#d1d1d1" stroke-width="1.6"/>
<circle cx="323.82" cy="335.10" r="3.05" fill="none" stroke="#d1d1d1" stroke-width="1.6"/>
<circle cx="323.28" cy="323.06" r="3.05" fill="none" stroke="#d1d1d1" stroke-width="1.6"/>
<circle cx="318.89" cy="341.68" r="3.05" fill="none" stroke="#d1d1d1" stroke-width="1.6"/>
<circle cx="314.80" cy="333.33" r="3.05" fill="none" stroke="#d1d1d1" stroke-width="1.6"/>
<circle cx="330.10" cy="329.90" r="3.05" fill="none" stroke="#d1d1d1" stroke-width="1.6"/>
<circle cx="318.18" cy="319.48" r="3.05" fill="none" stroke="#d1d1d1" stroke-width="1.6"/>
<circle cx="327.63" cy="338.46" r="3.05" fill="none" stroke="#d1d1d1" stroke-width="1.6"/>
<circle cx="317.28" cy="339.06" r="3.05" fill="none" stroke="#d1d1d1" stroke-width="1.6"/>
<circle cx="322.40" cy="310.10" r="3.05" fill="none" stroke="#d1d1d1" stroke-width="1.6"/>
<circle cx="323.10" cy="351.60" r="3.05" fill="none" stroke="#d1d1d1" stroke-width="1.6"/>
<circle cx="315.50" cy="326.00" r="3.05" fill="none" stroke="#d1d1d1" stroke-width="1.6"/>
<circle cx="315.50" cy="334.00" r="3.05" fill="none" stroke="#d1d1d1" stroke-width="1.6"/>
<circle cx="329.50" cy="325.00" r="3.05" fill="none" stroke="#d1d1d1" stroke-width="1.6"/>
<circle cx="329.50" cy="334.00" r="3.05" fill="none" stroke="#d1d1d1" stroke-width="1.6"/>
<circle cx="318.50" cy="342.00" r="3.05" fill="none" stroke="#d1d1d1" stroke-width="1.6"/>
<circle cx="327.50" cy="341.50" r="3.05" fill="none" stroke="#d1d1d1" stroke-width="1.6"/>
<line x1="310.40" y1="330.20" x2="333.80" y2="330.20" stroke="#111" stroke-width="1.7" />
<rect x="315.7" y="328.3" width="12.1" height="3.9" fill="#111"/>
<circle cx="358.93" cy="291.30" r="3.05" fill="none" stroke="#a67bc8" stroke-width="1.6"/>
<circle cx="354.26" cy="295.37" r="3.05" fill="none" stroke="#a67bc8" stroke-width="1.6"/>
<circle cx="358.03" cy="299.47" r="3.05" fill="none" stroke="#a67bc8" stroke-width="1.6"/>
<circle cx="355.16" cy="304.83" r="3.05" fill="none" stroke="#a67bc8" stroke-width="1.6"/>
<circle cx="362.24" cy="304.38" r="3.05" fill="none" stroke="#a67bc8" stroke-width="1.6"/>
<circle cx="362.73" cy="309.45" r="3.05" fill="none" stroke="#a67bc8" stroke-width="1.6"/>
<circle cx="355.97" cy="292.72" r="3.05" fill="none" stroke="#a67bc8" stroke-width="1.6"/>
<circle cx="359.15" cy="305.97" r="3.05" fill="none" stroke="#a67bc8" stroke-width="1.6"/>
<circle cx="358.65" cy="286.68" r="3.05" fill="none" stroke="#a67bc8" stroke-width="1.6"/>
<circle cx="363.17" cy="300.46" r="3.05" fill="none" stroke="#a67bc8" stroke-width="1.6"/>
<circle cx="355.73" cy="310.96" r="3.05" fill="none" stroke="#a67bc8" stroke-width="1.6"/>
<circle cx="358.40" cy="302.09" r="3.05" fill="none" stroke="#a67bc8" stroke-width="1.6"/>
<circle cx="362.68" cy="295.50" r="3.05" fill="none" stroke="#a67bc8" stroke-width="1.6"/>
<circle cx="356.80" cy="288.85" r="3.05" fill="none" stroke="#a67bc8" stroke-width="1.6"/>
<circle cx="358.31" cy="309.93" r="3.05" fill="none" stroke="#a67bc8" stroke-width="1.6"/>
<circle cx="355.12" cy="308.16" r="3.05" fill="none" stroke="#a67bc8" stroke-width="1.6"/>
<circle cx="350.35" cy="300.84" r="3.05" fill="none" stroke="#a67bc8" stroke-width="1.6"/>
<circle cx="351.95" cy="298.66" r="3.05" fill="none" stroke="#a67bc8" stroke-width="1.6"/>
<circle cx="359.70" cy="295.21" r="3.05" fill="none" stroke="#a67bc8" stroke-width="1.6"/>
<circle cx="356.94" cy="297.01" r="3.05" fill="none" stroke="#a67bc8" stroke-width="1.6"/>
<circle cx="360.34" cy="312.70" r="3.05" fill="none" stroke="#a67bc8" stroke-width="1.6"/>
<circle cx="350.65" cy="303.89" r="3.05" fill="none" stroke="#a67bc8" stroke-width="1.6"/>
<circle cx="360.90" cy="298.83" r="3.05" fill="none" stroke="#a67bc8" stroke-width="1.6"/>
<circle cx="365.29" cy="304.96" r="3.05" fill="none" stroke="#a67bc8" stroke-width="1.6"/>
<circle cx="353.79" cy="301.70" r="3.05" fill="none" stroke="#a67bc8" stroke-width="1.6"/>
<circle cx="355.12" cy="299.29" r="3.05" fill="none" stroke="#a67bc8" stroke-width="1.6"/>
<circle cx="365.68" cy="297.07" r="3.05" fill="none" stroke="#a67bc8" stroke-width="1.6"/>
<circle cx="361.80" cy="292.79" r="3.05" fill="none" stroke="#a67bc8" stroke-width="1.6"/>
<circle cx="352.65" cy="306.26" r="3.05" fill="none" stroke="#a67bc8" stroke-width="1.6"/>
<circle cx="365.89" cy="300.49" r="3.05" fill="none" stroke="#a67bc8" stroke-width="1.6"/>
<circle cx="357.64" cy="312.89" r="3.05" fill="none" stroke="#a67bc8" stroke-width="1.6"/>
<circle cx="363.32" cy="306.75" r="3.05" fill="none" stroke="#a67bc8" stroke-width="1.6"/>
<circle cx="351.65" cy="295.64" r="3.05" fill="none" stroke="#a67bc8" stroke-width="1.6"/>
<circle cx="357.90" cy="282.80" r="3.05" fill="none" stroke="#a67bc8" stroke-width="1.6"/>
<circle cx="360.10" cy="317.00" r="3.05" fill="none" stroke="#a67bc8" stroke-width="1.6"/>
<circle cx="350.50" cy="297.00" r="3.05" fill="none" stroke="#a67bc8" stroke-width="1.6"/>
<circle cx="350.00" cy="304.00" r="3.05" fill="none" stroke="#a67bc8" stroke-width="1.6"/>
<circle cx="365.50" cy="296.00" r="3.05" fill="none" stroke="#a67bc8" stroke-width="1.6"/>
<circle cx="366.00" cy="303.50" r="3.05" fill="none" stroke="#a67bc8" stroke-width="1.6"/>
<circle cx="355.00" cy="311.00" r="3.05" fill="none" stroke="#a67bc8" stroke-width="1.6"/>
<circle cx="362.00" cy="311.50" r="3.05" fill="none" stroke="#a67bc8" stroke-width="1.6"/>
<line x1="346.20" y1="299.40" x2="369.60" y2="299.40" stroke="#111" stroke-width="1.7" />
<rect x="352.3" y="297.5" width="11.2" height="4.0" fill="#111"/>
<rect x="389.65" y="310.15" width="5.7" height="5.7" fill="none" stroke="#d1d1d1" stroke-width="1.35"/>
<rect x="391.75" y="315.05" width="5.7" height="5.7" fill="none" stroke="#d1d1d1" stroke-width="1.35"/>
<rect x="385.05" y="319.45" width="5.7" height="5.7" fill="none" stroke="#d1d1d1" stroke-width="1.35"/>
<rect x="389.35" y="319.45" width="5.7" height="5.7" fill="none" stroke="#d1d1d1" stroke-width="1.35"/>
<rect x="395.45" y="319.45" width="5.7" height="5.7" fill="none" stroke="#d1d1d1" stroke-width="1.35"/>
<rect x="386.85" y="323.15" width="5.7" height="5.7" fill="none" stroke="#d1d1d1" stroke-width="1.35"/>
<rect x="393.65" y="323.15" width="5.7" height="5.7" fill="none" stroke="#d1d1d1" stroke-width="1.35"/>
<rect x="382.15" y="328.15" width="5.7" height="5.7" fill="none" stroke="#d1d1d1" stroke-width="1.35"/>
<rect x="389.15" y="327.15" width="5.7" height="5.7" fill="none" stroke="#d1d1d1" stroke-width="1.35"/>
<rect x="395.15" y="328.15" width="5.7" height="5.7" fill="none" stroke="#d1d1d1" stroke-width="1.35"/>
<rect x="399.15" y="329.15" width="5.7" height="5.7" fill="none" stroke="#d1d1d1" stroke-width="1.35"/>
<rect x="383.75" y="333.55" width="5.7" height="5.7" fill="none" stroke="#d1d1d1" stroke-width="1.35"/>
<rect x="389.95" y="334.15" width="5.7" height="5.7" fill="none" stroke="#d1d1d1" stroke-width="1.35"/>
<rect x="395.45" y="334.85" width="5.7" height="5.7" fill="none" stroke="#d1d1d1" stroke-width="1.35"/>
<rect x="399.75" y="337.85" width="5.7" height="5.7" fill="none" stroke="#d1d1d1" stroke-width="1.35"/>
<rect x="385.05" y="340.95" width="5.7" height="5.7" fill="none" stroke="#d1d1d1" stroke-width="1.35"/>
<rect x="388.75" y="341.55" width="5.7" height="5.7" fill="none" stroke="#d1d1d1" stroke-width="1.35"/>
<rect x="393.05" y="342.25" width="5.7" height="5.7" fill="none" stroke="#d1d1d1" stroke-width="1.35"/>
<rect x="386.85" y="344.65" width="5.7" height="5.7" fill="none" stroke="#d1d1d1" stroke-width="1.35"/>
<rect x="391.15" y="345.25" width="5.7" height="5.7" fill="none" stroke="#d1d1d1" stroke-width="1.35"/>
<rect x="396.05" y="348.95" width="5.7" height="5.7" fill="none" stroke="#d1d1d1" stroke-width="1.35"/>
<rect x="395.45" y="350.85" width="5.7" height="5.7" fill="none" stroke="#d1d1d1" stroke-width="1.35"/>
<line x1="394.00" y1="329.60" x2="394.00" y2="334.40" stroke="#111" stroke-width="1.4024999999999999" />
<line x1="388.00" y1="329.60" x2="400.00" y2="329.60" stroke="#111" stroke-width="1.65" />
<line x1="388.00" y1="334.40" x2="400.00" y2="334.40" stroke="#111" stroke-width="1.65" />
<line x1="382.00" y1="331.90" x2="406.00" y2="331.90" stroke="#111" stroke-width="1.65" />
<rect x="426.25" y="292.25" width="5.7" height="5.7" fill="none" stroke="#a67bc8" stroke-width="1.35"/>
<rect x="418.75" y="298.25" width="5.7" height="5.7" fill="none" stroke="#a67bc8" stroke-width="1.35"/>
<rect x="422.25" y="298.75" width="5.7" height="5.7" fill="none" stroke="#a67bc8" stroke-width="1.35"/>
<rect x="427.25" y="298.25" width="5.7" height="5.7" fill="none" stroke="#a67bc8" stroke-width="1.35"/>
<rect x="434.35" y="301.25" width="5.7" height="5.7" fill="none" stroke="#a67bc8" stroke-width="1.35"/>
<rect x="420.75" y="300.75" width="5.7" height="5.7" fill="none" stroke="#a67bc8" stroke-width="1.35"/>
<rect x="417.15" y="304.15" width="5.7" height="5.7" fill="none" stroke="#a67bc8" stroke-width="1.35"/>
<rect x="423.15" y="304.15" width="5.7" height="5.7" fill="none" stroke="#a67bc8" stroke-width="1.35"/>
<rect x="429.15" y="304.15" width="5.7" height="5.7" fill="none" stroke="#a67bc8" stroke-width="1.35"/>
<rect x="434.15" y="304.15" width="5.7" height="5.7" fill="none" stroke="#a67bc8" stroke-width="1.35"/>
<rect x="435.35" y="307.85" width="5.7" height="5.7" fill="none" stroke="#a67bc8" stroke-width="1.35"/>
<rect x="421.75" y="307.35" width="5.7" height="5.7" fill="none" stroke="#a67bc8" stroke-width="1.35"/>
<rect x="426.75" y="307.85" width="5.7" height="5.7" fill="none" stroke="#a67bc8" stroke-width="1.35"/>
<rect x="430.75" y="308.35" width="5.7" height="5.7" fill="none" stroke="#a67bc8" stroke-width="1.35"/>
<rect x="424.25" y="311.35" width="5.7" height="5.7" fill="none" stroke="#a67bc8" stroke-width="1.35"/>
<rect x="429.25" y="312.35" width="5.7" height="5.7" fill="none" stroke="#a67bc8" stroke-width="1.35"/>
<rect x="430.25" y="315.85" width="5.7" height="5.7" fill="none" stroke="#a67bc8" stroke-width="1.35"/>
<rect x="430.25" y="318.35" width="5.7" height="5.7" fill="none" stroke="#a67bc8" stroke-width="1.35"/>
<line x1="417.50" y1="307.90" x2="441.20" y2="307.90" stroke="#111" stroke-width="1.7" />
<text x="339.95" y="256.30" font-size="11.6" text-anchor="middle" >P&lt;0.0001</text>
<text x="411.70" y="256.30" font-size="11.6" text-anchor="middle" >P&lt;0.0001</text>
<text x="333.25" y="414.30" font-size="11.6" text-anchor="middle" >10kPa</text>
<text x="411.70" y="414.30" font-size="11.6" text-anchor="middle" >35kPa</text>
<line x1="526.60" y1="242.40" x2="526.60" y2="397.30" stroke="#111" stroke-width="1.8" />
<line x1="520.30" y1="397.30" x2="683.80" y2="397.30" stroke="#111" stroke-width="1.8" />
<line x1="520.30" y1="243.30" x2="526.60" y2="243.30" stroke="#111" stroke-width="1.6" />
<text x="518.70" y="247.80" font-size="11.6" text-anchor="end" >0.8</text>
<line x1="520.30" y1="281.80" x2="526.60" y2="281.80" stroke="#111" stroke-width="1.6" />
<text x="518.70" y="286.30" font-size="11.6" text-anchor="end" >0.6</text>
<line x1="520.30" y1="320.30" x2="526.60" y2="320.30" stroke="#111" stroke-width="1.6" />
<text x="518.70" y="324.80" font-size="11.6" text-anchor="end" >0.4</text>
<line x1="520.30" y1="358.80" x2="526.60" y2="358.80" stroke="#111" stroke-width="1.6" />
<text x="518.70" y="363.30" font-size="11.6" text-anchor="end" >0.2</text>
<line x1="520.30" y1="397.30" x2="526.60" y2="397.30" stroke="#111" stroke-width="1.6" />
<text x="518.70" y="401.80" font-size="11.6" text-anchor="end" >0.0</text>
<line x1="605.0" y1="242.3" x2="605.0" y2="394.8" stroke="#333" stroke-width="1.15" stroke-dasharray="1.45 1.5"/>
<line x1="550.55" y1="285.50" x2="550.55" y2="291.90" stroke="#3a3a3a" stroke-width="1.25" />
<line x1="544.55" y1="285.50" x2="556.55" y2="285.50" stroke="#3a3a3a" stroke-width="1.3" />
<rect x="540.05" y="293.05" width="21.00" height="104.25" fill="#d9d9d9" stroke="#000" stroke-width="2.3"/>
<line x1="586.10" y1="310.30" x2="586.10" y2="316.20" stroke="#3a3a3a" stroke-width="1.25" />
<line x1="580.10" y1="310.30" x2="592.10" y2="310.30" stroke="#3a3a3a" stroke-width="1.3" />
<rect x="575.45" y="317.35" width="21.30" height="79.95" fill="#ab7fca" stroke="#000" stroke-width="2.3"/>
<line x1="622.05" y1="304.00" x2="622.05" y2="314.10" stroke="#3a3a3a" stroke-width="1.25" />
<line x1="616.05" y1="304.00" x2="628.05" y2="304.00" stroke="#3a3a3a" stroke-width="1.3" />
<rect x="611.65" y="315.25" width="20.80" height="82.05" fill="#d9d9d9" stroke="#000" stroke-width="2.3"/>
<line x1="657.75" y1="319.60" x2="657.75" y2="330.10" stroke="#3a3a3a" stroke-width="1.25" />
<line x1="651.75" y1="319.60" x2="663.75" y2="319.60" stroke="#3a3a3a" stroke-width="1.3" />
<rect x="647.35" y="331.25" width="20.80" height="66.05" fill="#ab7fca" stroke="#000" stroke-width="2.3"/>
<text x="569.00" y="254.70" font-size="11.6" text-anchor="middle" >P&lt;0.05</text>
<text x="640.70" y="254.70" font-size="11.6" text-anchor="middle" >n.s.</text>
<text x="563.10" y="414.30" font-size="11.6" text-anchor="middle" >10kPa</text>
<text x="642.20" y="414.30" font-size="11.6" text-anchor="middle" >35kPa</text>
<text x="0.60" y="16.00" font-size="21.8" text-anchor="start" >A</text>
<text x="224.20" y="16.00" font-size="21.8" text-anchor="start" >B</text>
<text x="457.00" y="16.00" font-size="21.8" text-anchor="start" >C</text>
<text x="0.50" y="233.50" font-size="21.8" text-anchor="start" >D</text>
<text x="224.30" y="233.50" font-size="21.8" text-anchor="start" >E</text>
<text x="457.00" y="233.50" font-size="21.8" text-anchor="start" >F</text>
<text transform="translate(23.20,106.70) rotate(-90)" font-size="12.9" text-anchor="middle">Total Force (N)</text>
<text transform="translate(256.20,106.00) rotate(-90)" font-size="12.5" text-anchor="middle">Average Displacement (m)</text>
<text transform="translate(476.80,107.00) rotate(-90)" font-size="12.8" text-anchor="middle">Contraction velocity</text>
<text transform="translate(491.70,106.40) rotate(-90)" font-size="13.0" text-anchor="middle">(m/s)</text>
<text transform="translate(23.00,321.00) rotate(-90)" font-size="13.0" text-anchor="middle">Strain Energy (J)</text>
<text transform="translate(247.10,320.10) rotate(-90)" font-size="13.0" text-anchor="middle">Area</text>
<text transform="translate(264.8,319.8) rotate(-90)" font-size="13" text-anchor="middle">(micron<tspan font-size="8.5" dy="-5.5">2</tspan><tspan dy="5.5">)</tspan></text>
<text transform="translate(492.00,319.90) rotate(-90)" font-size="13.0" text-anchor="middle">Frequence (Hz)</text>
<rect x="206" y="429" width="17" height="17" fill="#d9d9d9"/>
<rect x="362" y="429" width="17" height="17" fill="#ab7fca"/>
<text x="226.2" y="443.2" font-size="14.6">LMNA<tspan font-size="7.8" dy="-5.0" dx="0.9">+/+</tspan><tspan dy="5.0" dx="-1.5"> hiPSC-CM</tspan></text>
<text x="380.7" y="443.2" font-size="14.6">LMNA<tspan font-size="7.8" dy="-5.0" dx="0.9">+/mut</tspan><tspan dy="5.0" dx="-1.5"> hiPSC-CM</tspan></text>
</svg>
</body></html>
